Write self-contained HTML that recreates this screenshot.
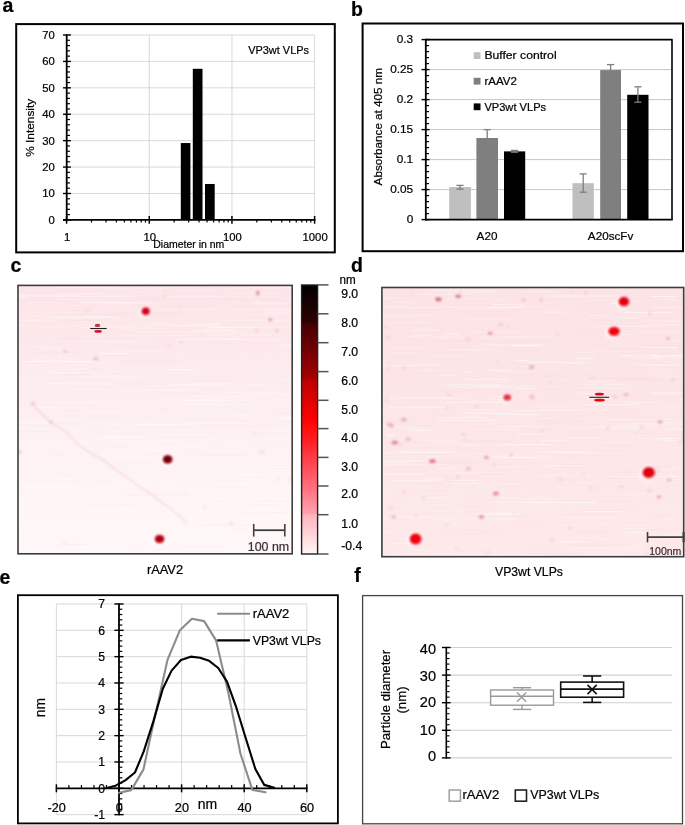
<!DOCTYPE html>
<html><head><meta charset="utf-8"><style>
html,body{margin:0;padding:0;background:#fff;}
svg{display:block;will-change:transform;}
text{font-family:"Liberation Sans",sans-serif;}
</style></head><body>
<svg width="685" height="825" viewBox="0 0 685 825">
<text x="2.50" y="12.20" font-size="19.5" text-anchor="start" fill="#000" font-weight="bold" stroke="#000" stroke-width="0.22" >a</text>
<text x="351.10" y="16.20" font-size="19.5" text-anchor="start" fill="#000" font-weight="bold" stroke="#000" stroke-width="0.22" >b</text>
<text x="10.50" y="272.00" font-size="19.5" text-anchor="start" fill="#000" font-weight="bold" stroke="#000" stroke-width="0.22" >c</text>
<text x="351.00" y="271.90" font-size="19.5" text-anchor="start" fill="#000" font-weight="bold" stroke="#000" stroke-width="0.22" >d</text>
<text x="-0.60" y="584.00" font-size="19.5" text-anchor="start" fill="#000" font-weight="bold" stroke="#000" stroke-width="0.22" >e</text>
<text x="354.30" y="582.20" font-size="19.5" text-anchor="start" fill="#000" font-weight="bold" stroke="#000" stroke-width="0.22" >f</text>
<rect x="16.20" y="24.10" width="318.60" height="228.30" fill="none" stroke="#000" stroke-width="2" />
<line x1="66.60" y1="193.49" x2="314.60" y2="193.49" stroke="#d9d9d9" stroke-width="1" />
<line x1="66.60" y1="167.07" x2="314.60" y2="167.07" stroke="#d9d9d9" stroke-width="1" />
<line x1="66.60" y1="140.66" x2="314.60" y2="140.66" stroke="#d9d9d9" stroke-width="1" />
<line x1="66.60" y1="114.24" x2="314.60" y2="114.24" stroke="#d9d9d9" stroke-width="1" />
<line x1="66.60" y1="87.83" x2="314.60" y2="87.83" stroke="#d9d9d9" stroke-width="1" />
<line x1="66.60" y1="61.42" x2="314.60" y2="61.42" stroke="#d9d9d9" stroke-width="1" />
<line x1="66.60" y1="35.00" x2="314.60" y2="35.00" stroke="#d9d9d9" stroke-width="1" />
<line x1="149.27" y1="35.00" x2="149.27" y2="219.90" stroke="#d9d9d9" stroke-width="1" />
<line x1="231.94" y1="35.00" x2="231.94" y2="219.90" stroke="#d9d9d9" stroke-width="1" />
<line x1="314.61" y1="35.00" x2="314.61" y2="219.90" stroke="#d9d9d9" stroke-width="1" />
<rect x="180.80" y="143.04" width="9.60" height="76.86" fill="#000" stroke="none" stroke-width="1" />
<rect x="192.80" y="68.81" width="9.70" height="151.09" fill="#000" stroke="none" stroke-width="1" />
<rect x="205.00" y="183.98" width="9.70" height="35.92" fill="#000" stroke="none" stroke-width="1" />
<line x1="66.70" y1="34.20" x2="66.70" y2="220.80" stroke="#000" stroke-width="1.8" />
<line x1="63.00" y1="219.90" x2="70.90" y2="219.90" stroke="#000" stroke-width="1.4" />
<line x1="66.70" y1="214.62" x2="70.00" y2="214.62" stroke="#000" stroke-width="1.2" />
<line x1="66.70" y1="209.33" x2="70.00" y2="209.33" stroke="#000" stroke-width="1.2" />
<line x1="66.70" y1="204.05" x2="70.00" y2="204.05" stroke="#000" stroke-width="1.2" />
<line x1="66.70" y1="198.77" x2="70.00" y2="198.77" stroke="#000" stroke-width="1.2" />
<line x1="63.00" y1="193.49" x2="70.90" y2="193.49" stroke="#000" stroke-width="1.4" />
<line x1="66.70" y1="188.20" x2="70.00" y2="188.20" stroke="#000" stroke-width="1.2" />
<line x1="66.70" y1="182.92" x2="70.00" y2="182.92" stroke="#000" stroke-width="1.2" />
<line x1="66.70" y1="177.64" x2="70.00" y2="177.64" stroke="#000" stroke-width="1.2" />
<line x1="66.70" y1="172.35" x2="70.00" y2="172.35" stroke="#000" stroke-width="1.2" />
<line x1="63.00" y1="167.07" x2="70.90" y2="167.07" stroke="#000" stroke-width="1.4" />
<line x1="66.70" y1="161.79" x2="70.00" y2="161.79" stroke="#000" stroke-width="1.2" />
<line x1="66.70" y1="156.51" x2="70.00" y2="156.51" stroke="#000" stroke-width="1.2" />
<line x1="66.70" y1="151.22" x2="70.00" y2="151.22" stroke="#000" stroke-width="1.2" />
<line x1="66.70" y1="145.94" x2="70.00" y2="145.94" stroke="#000" stroke-width="1.2" />
<line x1="63.00" y1="140.66" x2="70.90" y2="140.66" stroke="#000" stroke-width="1.4" />
<line x1="66.70" y1="135.38" x2="70.00" y2="135.38" stroke="#000" stroke-width="1.2" />
<line x1="66.70" y1="130.09" x2="70.00" y2="130.09" stroke="#000" stroke-width="1.2" />
<line x1="66.70" y1="124.81" x2="70.00" y2="124.81" stroke="#000" stroke-width="1.2" />
<line x1="66.70" y1="119.53" x2="70.00" y2="119.53" stroke="#000" stroke-width="1.2" />
<line x1="63.00" y1="114.24" x2="70.90" y2="114.24" stroke="#000" stroke-width="1.4" />
<line x1="66.70" y1="108.96" x2="70.00" y2="108.96" stroke="#000" stroke-width="1.2" />
<line x1="66.70" y1="103.68" x2="70.00" y2="103.68" stroke="#000" stroke-width="1.2" />
<line x1="66.70" y1="98.40" x2="70.00" y2="98.40" stroke="#000" stroke-width="1.2" />
<line x1="66.70" y1="93.11" x2="70.00" y2="93.11" stroke="#000" stroke-width="1.2" />
<line x1="63.00" y1="87.83" x2="70.90" y2="87.83" stroke="#000" stroke-width="1.4" />
<line x1="66.70" y1="82.55" x2="70.00" y2="82.55" stroke="#000" stroke-width="1.2" />
<line x1="66.70" y1="77.26" x2="70.00" y2="77.26" stroke="#000" stroke-width="1.2" />
<line x1="66.70" y1="71.98" x2="70.00" y2="71.98" stroke="#000" stroke-width="1.2" />
<line x1="66.70" y1="66.70" x2="70.00" y2="66.70" stroke="#000" stroke-width="1.2" />
<line x1="63.00" y1="61.42" x2="70.90" y2="61.42" stroke="#000" stroke-width="1.4" />
<line x1="66.70" y1="56.13" x2="70.00" y2="56.13" stroke="#000" stroke-width="1.2" />
<line x1="66.70" y1="50.85" x2="70.00" y2="50.85" stroke="#000" stroke-width="1.2" />
<line x1="66.70" y1="45.57" x2="70.00" y2="45.57" stroke="#000" stroke-width="1.2" />
<line x1="66.70" y1="40.28" x2="70.00" y2="40.28" stroke="#000" stroke-width="1.2" />
<line x1="63.00" y1="35.00" x2="70.90" y2="35.00" stroke="#000" stroke-width="1.4" />
<line x1="63.00" y1="219.90" x2="315.40" y2="219.90" stroke="#000" stroke-width="1.8" />
<line x1="66.60" y1="216.00" x2="66.60" y2="223.70" stroke="#000" stroke-width="1.5" />
<line x1="149.27" y1="216.00" x2="149.27" y2="223.70" stroke="#000" stroke-width="1.5" />
<line x1="231.94" y1="216.00" x2="231.94" y2="223.70" stroke="#000" stroke-width="1.5" />
<line x1="314.61" y1="216.00" x2="314.61" y2="223.70" stroke="#000" stroke-width="1.5" />
<line x1="91.49" y1="219.90" x2="91.49" y2="222.60" stroke="#000" stroke-width="1.2" />
<line x1="106.04" y1="219.90" x2="106.04" y2="222.60" stroke="#000" stroke-width="1.2" />
<line x1="116.37" y1="219.90" x2="116.37" y2="222.60" stroke="#000" stroke-width="1.2" />
<line x1="124.38" y1="219.90" x2="124.38" y2="222.60" stroke="#000" stroke-width="1.2" />
<line x1="130.93" y1="219.90" x2="130.93" y2="222.60" stroke="#000" stroke-width="1.2" />
<line x1="136.46" y1="219.90" x2="136.46" y2="222.60" stroke="#000" stroke-width="1.2" />
<line x1="141.26" y1="219.90" x2="141.26" y2="222.60" stroke="#000" stroke-width="1.2" />
<line x1="145.49" y1="219.90" x2="145.49" y2="222.60" stroke="#000" stroke-width="1.2" />
<line x1="174.16" y1="219.90" x2="174.16" y2="222.60" stroke="#000" stroke-width="1.2" />
<line x1="188.71" y1="219.90" x2="188.71" y2="222.60" stroke="#000" stroke-width="1.2" />
<line x1="199.04" y1="219.90" x2="199.04" y2="222.60" stroke="#000" stroke-width="1.2" />
<line x1="207.05" y1="219.90" x2="207.05" y2="222.60" stroke="#000" stroke-width="1.2" />
<line x1="213.60" y1="219.90" x2="213.60" y2="222.60" stroke="#000" stroke-width="1.2" />
<line x1="219.13" y1="219.90" x2="219.13" y2="222.60" stroke="#000" stroke-width="1.2" />
<line x1="223.93" y1="219.90" x2="223.93" y2="222.60" stroke="#000" stroke-width="1.2" />
<line x1="228.16" y1="219.90" x2="228.16" y2="222.60" stroke="#000" stroke-width="1.2" />
<line x1="256.83" y1="219.90" x2="256.83" y2="222.60" stroke="#000" stroke-width="1.2" />
<line x1="271.38" y1="219.90" x2="271.38" y2="222.60" stroke="#000" stroke-width="1.2" />
<line x1="281.71" y1="219.90" x2="281.71" y2="222.60" stroke="#000" stroke-width="1.2" />
<line x1="289.72" y1="219.90" x2="289.72" y2="222.60" stroke="#000" stroke-width="1.2" />
<line x1="296.27" y1="219.90" x2="296.27" y2="222.60" stroke="#000" stroke-width="1.2" />
<line x1="301.80" y1="219.90" x2="301.80" y2="222.60" stroke="#000" stroke-width="1.2" />
<line x1="306.60" y1="219.90" x2="306.60" y2="222.60" stroke="#000" stroke-width="1.2" />
<line x1="310.83" y1="219.90" x2="310.83" y2="222.60" stroke="#000" stroke-width="1.2" />
<text x="54.80" y="223.90" font-size="11.3" text-anchor="end" fill="#000" font-weight="normal" stroke="#000" stroke-width="0.22" >0</text>
<text x="54.80" y="197.49" font-size="11.3" text-anchor="end" fill="#000" font-weight="normal" stroke="#000" stroke-width="0.22" >10</text>
<text x="54.80" y="171.07" font-size="11.3" text-anchor="end" fill="#000" font-weight="normal" stroke="#000" stroke-width="0.22" >20</text>
<text x="54.80" y="144.66" font-size="11.3" text-anchor="end" fill="#000" font-weight="normal" stroke="#000" stroke-width="0.22" >30</text>
<text x="54.80" y="118.24" font-size="11.3" text-anchor="end" fill="#000" font-weight="normal" stroke="#000" stroke-width="0.22" >40</text>
<text x="54.80" y="91.83" font-size="11.3" text-anchor="end" fill="#000" font-weight="normal" stroke="#000" stroke-width="0.22" >50</text>
<text x="54.80" y="65.42" font-size="11.3" text-anchor="end" fill="#000" font-weight="normal" stroke="#000" stroke-width="0.22" >60</text>
<text x="54.80" y="39.00" font-size="11.3" text-anchor="end" fill="#000" font-weight="normal" stroke="#000" stroke-width="0.22" >70</text>
<text x="67.10" y="240.70" font-size="11.3" text-anchor="middle" fill="#000" font-weight="normal" stroke="#000" stroke-width="0.22" >1</text>
<text x="149.77" y="240.70" font-size="11.3" text-anchor="middle" fill="#000" font-weight="normal" stroke="#000" stroke-width="0.22" >10</text>
<text x="232.44" y="240.70" font-size="11.3" text-anchor="middle" fill="#000" font-weight="normal" stroke="#000" stroke-width="0.22" >100</text>
<text x="315.11" y="240.70" font-size="11.3" text-anchor="middle" fill="#000" font-weight="normal" stroke="#000" stroke-width="0.22" >1000</text>
<text x="153.30" y="247.50" font-size="10.4" text-anchor="start" fill="#000" font-weight="normal" stroke="#000" stroke-width="0.22" textLength="71" lengthAdjust="spacingAndGlyphs" >Diameter in nm</text>
<text x="248.20" y="54.20" font-size="11.8" text-anchor="start" fill="#000" font-weight="normal" stroke="#000" stroke-width="0.22" textLength="60.8" lengthAdjust="spacingAndGlyphs" >VP3wt VLPs</text>
<text x="0.00" y="0.00" font-size="11.3" text-anchor="middle" fill="#000" font-weight="normal" stroke="#000" stroke-width="0.22" textLength="58" lengthAdjust="spacingAndGlyphs" transform="translate(33.8,127.8) rotate(-90)">% Intensity</text>
<rect x="362.60" y="23.50" width="320.40" height="227.70" fill="none" stroke="#000" stroke-width="2" />
<line x1="425.80" y1="189.60" x2="672.00" y2="189.60" stroke="#c6c6c6" stroke-width="1" />
<line x1="425.80" y1="159.60" x2="672.00" y2="159.60" stroke="#c6c6c6" stroke-width="1" />
<line x1="425.80" y1="129.60" x2="672.00" y2="129.60" stroke="#c6c6c6" stroke-width="1" />
<line x1="425.80" y1="99.60" x2="672.00" y2="99.60" stroke="#c6c6c6" stroke-width="1" />
<line x1="425.80" y1="69.60" x2="672.00" y2="69.60" stroke="#c6c6c6" stroke-width="1" />
<line x1="425.80" y1="39.60" x2="672.60" y2="39.60" stroke="#000" stroke-width="1.6" />
<line x1="672.00" y1="39.60" x2="672.00" y2="219.60" stroke="#000" stroke-width="1.6" />
<rect x="449.20" y="187.02" width="21.70" height="32.58" fill="#bfbfbf" stroke="none" stroke-width="1" />
<rect x="476.40" y="138.00" width="21.60" height="81.60" fill="#7f7f7f" stroke="none" stroke-width="1" />
<rect x="504.00" y="151.38" width="21.20" height="68.22" fill="#000" stroke="none" stroke-width="1" />
<rect x="572.50" y="183.18" width="21.30" height="36.42" fill="#bfbfbf" stroke="none" stroke-width="1" />
<rect x="600.20" y="70.08" width="20.80" height="149.52" fill="#7f7f7f" stroke="none" stroke-width="1" />
<rect x="627.20" y="94.80" width="21.30" height="124.80" fill="#000" stroke="none" stroke-width="1" />
<line x1="460.00" y1="185.40" x2="460.00" y2="189.20" stroke="#7f7f7f" stroke-width="1.3" />
<line x1="456.40" y1="185.40" x2="463.60" y2="185.40" stroke="#7f7f7f" stroke-width="1.3" />
<line x1="456.40" y1="189.20" x2="463.60" y2="189.20" stroke="#7f7f7f" stroke-width="1.3" />
<line x1="487.20" y1="129.60" x2="487.20" y2="146.60" stroke="#7f7f7f" stroke-width="1.3" />
<line x1="483.60" y1="129.60" x2="490.80" y2="129.60" stroke="#7f7f7f" stroke-width="1.3" />
<line x1="483.60" y1="146.60" x2="490.80" y2="146.60" stroke="#7f7f7f" stroke-width="1.3" />
<line x1="514.60" y1="150.40" x2="514.60" y2="152.20" stroke="#7f7f7f" stroke-width="1.3" />
<line x1="511.00" y1="150.40" x2="518.20" y2="150.40" stroke="#7f7f7f" stroke-width="1.3" />
<line x1="511.00" y1="152.20" x2="518.20" y2="152.20" stroke="#7f7f7f" stroke-width="1.3" />
<line x1="583.20" y1="173.90" x2="583.20" y2="192.20" stroke="#7f7f7f" stroke-width="1.3" />
<line x1="579.60" y1="173.90" x2="586.80" y2="173.90" stroke="#7f7f7f" stroke-width="1.3" />
<line x1="579.60" y1="192.20" x2="586.80" y2="192.20" stroke="#7f7f7f" stroke-width="1.3" />
<line x1="610.60" y1="64.60" x2="610.60" y2="75.40" stroke="#7f7f7f" stroke-width="1.3" />
<line x1="607.00" y1="64.60" x2="614.20" y2="64.60" stroke="#7f7f7f" stroke-width="1.3" />
<line x1="607.00" y1="75.40" x2="614.20" y2="75.40" stroke="#7f7f7f" stroke-width="1.3" />
<line x1="637.90" y1="86.80" x2="637.90" y2="102.20" stroke="#7f7f7f" stroke-width="1.3" />
<line x1="634.30" y1="86.80" x2="641.50" y2="86.80" stroke="#7f7f7f" stroke-width="1.3" />
<line x1="634.30" y1="102.20" x2="641.50" y2="102.20" stroke="#7f7f7f" stroke-width="1.3" />
<line x1="425.80" y1="38.80" x2="425.80" y2="220.40" stroke="#000" stroke-width="1.8" />
<line x1="421.50" y1="219.60" x2="429.60" y2="219.60" stroke="#000" stroke-width="1.4" />
<line x1="425.80" y1="213.60" x2="429.00" y2="213.60" stroke="#000" stroke-width="1.2" />
<line x1="425.80" y1="207.60" x2="429.00" y2="207.60" stroke="#000" stroke-width="1.2" />
<line x1="425.80" y1="201.60" x2="429.00" y2="201.60" stroke="#000" stroke-width="1.2" />
<line x1="425.80" y1="195.60" x2="429.00" y2="195.60" stroke="#000" stroke-width="1.2" />
<line x1="421.50" y1="189.60" x2="429.60" y2="189.60" stroke="#000" stroke-width="1.4" />
<line x1="425.80" y1="183.60" x2="429.00" y2="183.60" stroke="#000" stroke-width="1.2" />
<line x1="425.80" y1="177.60" x2="429.00" y2="177.60" stroke="#000" stroke-width="1.2" />
<line x1="425.80" y1="171.60" x2="429.00" y2="171.60" stroke="#000" stroke-width="1.2" />
<line x1="425.80" y1="165.60" x2="429.00" y2="165.60" stroke="#000" stroke-width="1.2" />
<line x1="421.50" y1="159.60" x2="429.60" y2="159.60" stroke="#000" stroke-width="1.4" />
<line x1="425.80" y1="153.60" x2="429.00" y2="153.60" stroke="#000" stroke-width="1.2" />
<line x1="425.80" y1="147.60" x2="429.00" y2="147.60" stroke="#000" stroke-width="1.2" />
<line x1="425.80" y1="141.60" x2="429.00" y2="141.60" stroke="#000" stroke-width="1.2" />
<line x1="425.80" y1="135.60" x2="429.00" y2="135.60" stroke="#000" stroke-width="1.2" />
<line x1="421.50" y1="129.60" x2="429.60" y2="129.60" stroke="#000" stroke-width="1.4" />
<line x1="425.80" y1="123.60" x2="429.00" y2="123.60" stroke="#000" stroke-width="1.2" />
<line x1="425.80" y1="117.60" x2="429.00" y2="117.60" stroke="#000" stroke-width="1.2" />
<line x1="425.80" y1="111.60" x2="429.00" y2="111.60" stroke="#000" stroke-width="1.2" />
<line x1="425.80" y1="105.60" x2="429.00" y2="105.60" stroke="#000" stroke-width="1.2" />
<line x1="421.50" y1="99.60" x2="429.60" y2="99.60" stroke="#000" stroke-width="1.4" />
<line x1="425.80" y1="93.60" x2="429.00" y2="93.60" stroke="#000" stroke-width="1.2" />
<line x1="425.80" y1="87.60" x2="429.00" y2="87.60" stroke="#000" stroke-width="1.2" />
<line x1="425.80" y1="81.60" x2="429.00" y2="81.60" stroke="#000" stroke-width="1.2" />
<line x1="425.80" y1="75.60" x2="429.00" y2="75.60" stroke="#000" stroke-width="1.2" />
<line x1="421.50" y1="69.60" x2="429.60" y2="69.60" stroke="#000" stroke-width="1.4" />
<line x1="425.80" y1="63.60" x2="429.00" y2="63.60" stroke="#000" stroke-width="1.2" />
<line x1="425.80" y1="57.60" x2="429.00" y2="57.60" stroke="#000" stroke-width="1.2" />
<line x1="425.80" y1="51.60" x2="429.00" y2="51.60" stroke="#000" stroke-width="1.2" />
<line x1="425.80" y1="45.60" x2="429.00" y2="45.60" stroke="#000" stroke-width="1.2" />
<line x1="421.50" y1="39.60" x2="429.60" y2="39.60" stroke="#000" stroke-width="1.4" />
<line x1="425.00" y1="219.60" x2="672.80" y2="219.60" stroke="#000" stroke-width="1.8" />
<text x="413.20" y="223.45" font-size="11.8" text-anchor="end" fill="#000" font-weight="normal" stroke="#000" stroke-width="0.22" >0</text>
<text x="413.20" y="193.45" font-size="11.8" text-anchor="end" fill="#000" font-weight="normal" stroke="#000" stroke-width="0.22" >0.05</text>
<text x="413.20" y="163.45" font-size="11.8" text-anchor="end" fill="#000" font-weight="normal" stroke="#000" stroke-width="0.22" >0.1</text>
<text x="413.20" y="133.45" font-size="11.8" text-anchor="end" fill="#000" font-weight="normal" stroke="#000" stroke-width="0.22" >0.15</text>
<text x="413.20" y="103.45" font-size="11.8" text-anchor="end" fill="#000" font-weight="normal" stroke="#000" stroke-width="0.22" >0.2</text>
<text x="413.20" y="73.45" font-size="11.8" text-anchor="end" fill="#000" font-weight="normal" stroke="#000" stroke-width="0.22" >0.25</text>
<text x="413.20" y="43.45" font-size="11.8" text-anchor="end" fill="#000" font-weight="normal" stroke="#000" stroke-width="0.22" >0.3</text>
<text x="487.00" y="240.00" font-size="11.7" text-anchor="middle" fill="#000" font-weight="normal" stroke="#000" stroke-width="0.22" >A20</text>
<text x="610.60" y="240.00" font-size="11.7" text-anchor="middle" fill="#000" font-weight="normal" stroke="#000" stroke-width="0.22" >A20scFv</text>
<rect x="473.70" y="52.20" width="6.80" height="6.80" fill="#bfbfbf" stroke="none" stroke-width="1" />
<text x="484.40" y="59.40" font-size="11.3" text-anchor="start" fill="#000" font-weight="normal" stroke="#000" stroke-width="0.22" textLength="72.2" lengthAdjust="spacingAndGlyphs" >Buffer control</text>
<rect x="473.70" y="77.80" width="6.80" height="6.80" fill="#7f7f7f" stroke="none" stroke-width="1" />
<text x="484.40" y="85.00" font-size="11.3" text-anchor="start" fill="#000" font-weight="normal" stroke="#000" stroke-width="0.22" textLength="32.4" lengthAdjust="spacingAndGlyphs" >rAAV2</text>
<rect x="473.70" y="103.40" width="6.80" height="6.80" fill="#000" stroke="none" stroke-width="1" />
<text x="484.40" y="110.60" font-size="11.3" text-anchor="start" fill="#000" font-weight="normal" stroke="#000" stroke-width="0.22" textLength="61.7" lengthAdjust="spacingAndGlyphs" >VP3wt VLPs</text>
<text x="0.00" y="0.00" font-size="11.3" text-anchor="middle" fill="#000" font-weight="normal" stroke="#000" stroke-width="0.22" textLength="117.4" lengthAdjust="spacingAndGlyphs" transform="translate(382.0,126.7) rotate(-90)">Absorbance at 405 nm</text>
<defs>
<linearGradient id="bgc" x1="0" y1="0" x2="0" y2="1">
 <stop offset="0" stop-color="#fce5e8"/><stop offset="0.2" stop-color="#fce8ea"/>
 <stop offset="0.4" stop-color="#fdedef"/><stop offset="0.6" stop-color="#fef2f3"/><stop offset="0.8" stop-color="#fef5f6"/><stop offset="1" stop-color="#fef7f8"/>
</linearGradient>
<linearGradient id="bgd" x1="0" y1="0" x2="0" y2="1">
 <stop offset="0" stop-color="#fce4e6"/><stop offset="0.5" stop-color="#fce6e8"/>
 <stop offset="1" stop-color="#fde8ea"/>
</linearGradient>
<linearGradient id="cbar" x1="0" y1="0" x2="0" y2="1">
 <stop offset="0" stop-color="#000000"/>
 <stop offset="0.14" stop-color="#300000"/>
 <stop offset="0.143" stop-color="#420004"/>
 <stop offset="0.35" stop-color="#a80000"/>
 <stop offset="0.353" stop-color="#bc0000"/>
 <stop offset="0.50" stop-color="#ff0000"/>
 <stop offset="0.57" stop-color="#ff1c1c"/>
 <stop offset="0.64" stop-color="#ff3c46"/>
 <stop offset="0.76" stop-color="#ff7282"/>
 <stop offset="0.85" stop-color="#ffa2ae"/>
 <stop offset="0.855" stop-color="#ffb4bd"/>
 <stop offset="1" stop-color="#fff6f7"/>
</linearGradient>
<filter id="bl1" x="-50%" y="-50%" width="200%" height="200%"><feGaussianBlur stdDeviation="0.6"/></filter>
<filter id="bl2" x="-50%" y="-50%" width="200%" height="200%"><feGaussianBlur stdDeviation="1.2"/></filter>
<filter id="bl3" x="-50%" y="-50%" width="200%" height="200%"><feGaussianBlur stdDeviation="0.9"/></filter>
<clipPath id="clc"><rect x="18" y="285.4" width="274.2" height="268.4"/></clipPath>
<clipPath id="cld"><rect x="381.9" y="287.5" width="301.8" height="269.2"/></clipPath>
</defs>
<g clip-path="url(#clc)">
<rect x="18.00" y="285.40" width="274.20" height="268.40" fill="url(#bgc)" stroke="none" stroke-width="1" />
<rect x="42.4" y="372.3" width="47.7" height="0.7" fill="#ffffff" opacity="0.44"/>
<rect x="147.3" y="301.0" width="8.4" height="0.5" fill="#ffffff" opacity="0.27"/>
<rect x="241.3" y="399.3" width="13.9" height="1.0" fill="#ffffff" opacity="0.47"/>
<rect x="114.7" y="440.3" width="68.5" height="0.6" fill="#ffffff" opacity="0.55"/>
<rect x="32.7" y="324.1" width="25.7" height="0.8" fill="#f3c6cc" opacity="0.08"/>
<rect x="107.6" y="456.9" width="41.1" height="0.6" fill="#ffffff" opacity="0.27"/>
<rect x="123.8" y="468.0" width="26.1" height="0.6" fill="#ffffff" opacity="0.41"/>
<rect x="203.6" y="498.6" width="21.6" height="0.9" fill="#ffffff" opacity="0.43"/>
<rect x="82.7" y="481.2" width="68.7" height="0.9" fill="#ffffff" opacity="0.40"/>
<rect x="141.9" y="326.2" width="8.5" height="0.8" fill="#ffffff" opacity="0.52"/>
<rect x="90.3" y="520.4" width="50.5" height="0.7" fill="#ffffff" opacity="0.45"/>
<rect x="275.9" y="510.8" width="36.3" height="0.9" fill="#ffffff" opacity="0.27"/>
<rect x="290.2" y="459.1" width="58.6" height="0.8" fill="#ffffff" opacity="0.39"/>
<rect x="133.8" y="291.5" width="16.8" height="0.9" fill="#ffffff" opacity="0.27"/>
<rect x="70.8" y="320.1" width="31.0" height="0.7" fill="#f3c6cc" opacity="0.07"/>
<rect x="257.9" y="432.9" width="58.4" height="0.7" fill="#f3c6cc" opacity="0.09"/>
<rect x="258.1" y="381.7" width="67.3" height="0.6" fill="#ffffff" opacity="0.31"/>
<rect x="140.7" y="348.0" width="43.7" height="0.7" fill="#ffffff" opacity="0.25"/>
<rect x="164.6" y="384.5" width="67.0" height="0.8" fill="#ffffff" opacity="0.43"/>
<rect x="13.9" y="466.9" width="63.6" height="0.9" fill="#f3c6cc" opacity="0.15"/>
<rect x="115.4" y="390.7" width="12.6" height="0.5" fill="#ffffff" opacity="0.27"/>
<rect x="45.7" y="341.4" width="27.8" height="0.6" fill="#ffffff" opacity="0.25"/>
<rect x="105.0" y="312.6" width="7.6" height="0.6" fill="#f3c6cc" opacity="0.12"/>
<rect x="100.2" y="353.1" width="29.3" height="1.0" fill="#ffffff" opacity="0.55"/>
<rect x="140.3" y="410.5" width="11.5" height="0.6" fill="#ffffff" opacity="0.37"/>
<rect x="45.5" y="507.9" width="7.5" height="0.6" fill="#f3c6cc" opacity="0.11"/>
<rect x="6.0" y="431.2" width="39.8" height="0.8" fill="#f3c6cc" opacity="0.15"/>
<rect x="105.9" y="355.5" width="16.7" height="0.9" fill="#f3c6cc" opacity="0.11"/>
<rect x="63.6" y="373.9" width="57.9" height="0.9" fill="#f3c6cc" opacity="0.15"/>
<rect x="215.7" y="505.0" width="20.5" height="0.5" fill="#ffffff" opacity="0.37"/>
<rect x="80.2" y="292.9" width="22.6" height="0.7" fill="#ffffff" opacity="0.58"/>
<rect x="288.7" y="536.9" width="67.1" height="0.6" fill="#ffffff" opacity="0.33"/>
<rect x="58.1" y="338.2" width="45.9" height="0.7" fill="#f3c6cc" opacity="0.14"/>
<rect x="233.3" y="460.7" width="11.4" height="0.9" fill="#ffffff" opacity="0.57"/>
<rect x="138.6" y="486.7" width="17.4" height="0.9" fill="#f3c6cc" opacity="0.09"/>
<rect x="114.5" y="546.2" width="31.7" height="0.6" fill="#f3c6cc" opacity="0.13"/>
<rect x="42.5" y="319.5" width="63.9" height="0.9" fill="#f3c6cc" opacity="0.07"/>
<rect x="191.4" y="548.5" width="28.4" height="0.5" fill="#ffffff" opacity="0.30"/>
<rect x="189.1" y="546.0" width="39.7" height="0.9" fill="#f3c6cc" opacity="0.10"/>
<rect x="60.1" y="507.1" width="22.1" height="0.8" fill="#ffffff" opacity="0.33"/>
<rect x="121.3" y="355.0" width="14.4" height="0.7" fill="#f3c6cc" opacity="0.10"/>
<rect x="264.0" y="442.0" width="32.9" height="0.8" fill="#f3c6cc" opacity="0.11"/>
<rect x="3.5" y="425.9" width="34.2" height="0.9" fill="#ffffff" opacity="0.25"/>
<rect x="137.3" y="331.7" width="52.4" height="0.8" fill="#ffffff" opacity="0.36"/>
<rect x="228.7" y="434.5" width="12.8" height="0.6" fill="#ffffff" opacity="0.34"/>
<rect x="147.4" y="492.7" width="42.0" height="0.7" fill="#f3c6cc" opacity="0.15"/>
<rect x="146.7" y="449.8" width="38.8" height="0.8" fill="#ffffff" opacity="0.41"/>
<rect x="275.0" y="413.7" width="50.7" height="0.6" fill="#f3c6cc" opacity="0.15"/>
<rect x="275.5" y="435.6" width="59.8" height="0.7" fill="#ffffff" opacity="0.29"/>
<rect x="68.8" y="304.9" width="10.7" height="0.9" fill="#ffffff" opacity="0.52"/>
<rect x="208.7" y="326.9" width="48.3" height="1.0" fill="#ffffff" opacity="0.56"/>
<rect x="278.2" y="344.3" width="31.5" height="0.9" fill="#ffffff" opacity="0.60"/>
<rect x="125.0" y="328.7" width="39.0" height="0.7" fill="#ffffff" opacity="0.32"/>
<rect x="3.7" y="479.2" width="41.5" height="0.7" fill="#ffffff" opacity="0.26"/>
<rect x="148.7" y="452.9" width="10.1" height="1.0" fill="#f3c6cc" opacity="0.14"/>
<rect x="76.1" y="313.5" width="8.5" height="0.6" fill="#f3c6cc" opacity="0.09"/>
<rect x="266.1" y="398.7" width="58.4" height="1.0" fill="#ffffff" opacity="0.30"/>
<rect x="204.1" y="438.5" width="11.7" height="0.7" fill="#ffffff" opacity="0.49"/>
<rect x="274.1" y="304.8" width="46.6" height="0.9" fill="#f3c6cc" opacity="0.07"/>
<rect x="251.8" y="303.3" width="35.0" height="1.0" fill="#ffffff" opacity="0.44"/>
<rect x="36.0" y="357.3" width="39.7" height="0.6" fill="#ffffff" opacity="0.29"/>
<rect x="57.4" y="298.9" width="26.0" height="0.6" fill="#ffffff" opacity="0.52"/>
<rect x="50.3" y="419.6" width="28.2" height="0.5" fill="#ffffff" opacity="0.34"/>
<rect x="160.1" y="482.2" width="18.1" height="0.6" fill="#ffffff" opacity="0.58"/>
<rect x="125.1" y="505.2" width="37.7" height="0.8" fill="#f3c6cc" opacity="0.10"/>
<rect x="287.0" y="470.0" width="27.9" height="0.8" fill="#f3c6cc" opacity="0.13"/>
<rect x="100.2" y="394.0" width="9.5" height="0.9" fill="#ffffff" opacity="0.27"/>
<rect x="46.0" y="354.0" width="11.4" height="0.8" fill="#f3c6cc" opacity="0.15"/>
<rect x="69.3" y="361.1" width="24.8" height="0.7" fill="#ffffff" opacity="0.31"/>
<rect x="281.0" y="356.1" width="68.2" height="1.0" fill="#ffffff" opacity="0.34"/>
<rect x="102.9" y="368.5" width="6.1" height="0.8" fill="#ffffff" opacity="0.42"/>
<rect x="146.5" y="339.3" width="6.3" height="0.7" fill="#ffffff" opacity="0.28"/>
<rect x="4.6" y="296.6" width="25.5" height="0.8" fill="#ffffff" opacity="0.45"/>
<rect x="191.4" y="486.8" width="51.8" height="0.7" fill="#f3c6cc" opacity="0.10"/>
<rect x="42.0" y="549.7" width="52.3" height="0.9" fill="#ffffff" opacity="0.27"/>
<rect x="182.6" y="524.8" width="53.0" height="0.8" fill="#f3c6cc" opacity="0.07"/>
<rect x="243.6" y="420.8" width="57.5" height="0.9" fill="#f3c6cc" opacity="0.12"/>
<rect x="202.0" y="468.7" width="20.7" height="0.7" fill="#ffffff" opacity="0.30"/>
<rect x="243.9" y="313.6" width="41.7" height="0.8" fill="#ffffff" opacity="0.47"/>
<rect x="-1.0" y="416.7" width="57.1" height="0.8" fill="#f3c6cc" opacity="0.11"/>
<rect x="17.4" y="462.4" width="53.2" height="0.6" fill="#ffffff" opacity="0.28"/>
<rect x="58.4" y="481.2" width="53.3" height="0.7" fill="#f3c6cc" opacity="0.11"/>
<rect x="199.1" y="414.0" width="55.1" height="0.5" fill="#ffffff" opacity="0.47"/>
<rect x="72.7" y="325.0" width="53.6" height="0.5" fill="#ffffff" opacity="0.45"/>
<rect x="77.1" y="301.7" width="49.0" height="0.6" fill="#ffffff" opacity="0.49"/>
<rect x="134.7" y="424.0" width="35.8" height="0.6" fill="#ffffff" opacity="0.56"/>
<rect x="273.4" y="547.9" width="7.1" height="1.0" fill="#ffffff" opacity="0.54"/>
<rect x="77.0" y="406.0" width="19.4" height="0.8" fill="#f3c6cc" opacity="0.08"/>
<rect x="152.2" y="323.4" width="67.0" height="0.8" fill="#ffffff" opacity="0.54"/>
<rect x="204.9" y="523.4" width="20.8" height="0.5" fill="#f3c6cc" opacity="0.11"/>
<rect x="142.7" y="286.4" width="34.8" height="0.7" fill="#ffffff" opacity="0.30"/>
<rect x="245.2" y="370.2" width="6.1" height="0.6" fill="#f3c6cc" opacity="0.14"/>
<rect x="207.8" y="534.0" width="63.7" height="0.7" fill="#ffffff" opacity="0.38"/>
<rect x="171.3" y="553.5" width="29.1" height="0.5" fill="#ffffff" opacity="0.35"/>
<rect x="243.6" y="312.7" width="24.3" height="0.6" fill="#f3c6cc" opacity="0.08"/>
<rect x="53.9" y="422.5" width="29.9" height="0.9" fill="#f3c6cc" opacity="0.15"/>
<rect x="266.7" y="454.7" width="66.2" height="0.5" fill="#ffffff" opacity="0.50"/>
<rect x="130.6" y="482.0" width="54.2" height="0.5" fill="#ffffff" opacity="0.35"/>
<rect x="35.5" y="534.1" width="36.2" height="0.9" fill="#ffffff" opacity="0.35"/>
<rect x="74.5" y="547.4" width="48.0" height="0.7" fill="#ffffff" opacity="0.45"/>
<rect x="45.6" y="330.3" width="19.3" height="0.6" fill="#f3c6cc" opacity="0.11"/>
<rect x="291.2" y="528.6" width="34.8" height="0.5" fill="#ffffff" opacity="0.32"/>
<rect x="24.8" y="377.2" width="21.3" height="0.9" fill="#ffffff" opacity="0.45"/>
<rect x="119.4" y="486.6" width="32.5" height="0.7" fill="#ffffff" opacity="0.38"/>
<rect x="79.6" y="302.1" width="67.9" height="0.8" fill="#ffffff" opacity="0.43"/>
<rect x="61.5" y="517.0" width="23.3" height="0.7" fill="#ffffff" opacity="0.39"/>
<rect x="247.7" y="541.4" width="61.9" height="0.9" fill="#ffffff" opacity="0.26"/>
<rect x="137.2" y="525.8" width="43.6" height="1.0" fill="#ffffff" opacity="0.39"/>
<rect x="249.7" y="507.0" width="68.2" height="0.6" fill="#ffffff" opacity="0.29"/>
<rect x="198.7" y="425.6" width="66.3" height="0.9" fill="#f3c6cc" opacity="0.12"/>
<rect x="160.3" y="408.1" width="8.5" height="1.0" fill="#f3c6cc" opacity="0.08"/>
<rect x="87.4" y="458.7" width="14.2" height="0.8" fill="#ffffff" opacity="0.47"/>
<rect x="18.7" y="315.5" width="39.6" height="0.6" fill="#ffffff" opacity="0.39"/>
<rect x="1.1" y="446.7" width="25.3" height="0.8" fill="#ffffff" opacity="0.59"/>
<rect x="137.8" y="522.6" width="21.0" height="0.9" fill="#ffffff" opacity="0.59"/>
<rect x="4.4" y="367.9" width="37.9" height="0.6" fill="#ffffff" opacity="0.40"/>
<rect x="270.2" y="464.5" width="20.5" height="0.7" fill="#ffffff" opacity="0.37"/>
<rect x="56.3" y="468.6" width="57.0" height="0.6" fill="#f3c6cc" opacity="0.11"/>
<rect x="89.7" y="545.7" width="58.5" height="0.9" fill="#ffffff" opacity="0.33"/>
<rect x="278.1" y="364.6" width="37.7" height="0.7" fill="#ffffff" opacity="0.33"/>
<rect x="277.1" y="464.0" width="15.4" height="1.0" fill="#ffffff" opacity="0.32"/>
<rect x="13.3" y="323.5" width="9.8" height="0.9" fill="#ffffff" opacity="0.56"/>
<rect x="291.5" y="482.1" width="65.6" height="1.0" fill="#ffffff" opacity="0.31"/>
<rect x="7.4" y="485.7" width="48.5" height="0.7" fill="#ffffff" opacity="0.38"/>
<rect x="-1.2" y="330.8" width="23.9" height="0.6" fill="#ffffff" opacity="0.58"/>
<rect x="59.0" y="544.2" width="28.8" height="0.7" fill="#f3c6cc" opacity="0.14"/>
<rect x="137.3" y="298.6" width="29.9" height="0.7" fill="#f3c6cc" opacity="0.08"/>
<rect x="6.9" y="526.2" width="32.3" height="0.5" fill="#f3c6cc" opacity="0.14"/>
<rect x="16.4" y="294.8" width="64.9" height="0.9" fill="#ffffff" opacity="0.51"/>
<rect x="78.1" y="376.4" width="67.3" height="0.9" fill="#ffffff" opacity="0.34"/>
<rect x="79.1" y="370.3" width="6.2" height="0.8" fill="#f3c6cc" opacity="0.15"/>
<rect x="5.1" y="538.6" width="21.0" height="1.0" fill="#ffffff" opacity="0.58"/>
<rect x="71.9" y="389.1" width="33.5" height="0.6" fill="#ffffff" opacity="0.57"/>
<rect x="215.3" y="500.8" width="58.7" height="0.7" fill="#f3c6cc" opacity="0.12"/>
<rect x="104.5" y="371.2" width="56.1" height="0.9" fill="#ffffff" opacity="0.32"/>
<rect x="17.0" y="351.8" width="8.2" height="1.0" fill="#ffffff" opacity="0.36"/>
<rect x="288.6" y="522.5" width="23.0" height="0.7" fill="#ffffff" opacity="0.28"/>
<rect x="129.5" y="475.9" width="21.0" height="0.8" fill="#ffffff" opacity="0.47"/>
<rect x="247.2" y="486.2" width="48.5" height="0.6" fill="#ffffff" opacity="0.54"/>
<rect x="107.7" y="437.6" width="53.2" height="0.6" fill="#ffffff" opacity="0.34"/>
<rect x="258.1" y="326.6" width="43.0" height="1.0" fill="#ffffff" opacity="0.39"/>
<rect x="66.1" y="421.6" width="57.7" height="0.6" fill="#ffffff" opacity="0.60"/>
<rect x="239.0" y="412.8" width="59.8" height="0.6" fill="#f3c6cc" opacity="0.06"/>
<rect x="53.8" y="317.4" width="68.3" height="0.7" fill="#ffffff" opacity="0.58"/>
<rect x="130.1" y="517.9" width="22.6" height="0.6" fill="#f3c6cc" opacity="0.15"/>
<rect x="180.4" y="445.4" width="19.9" height="0.6" fill="#ffffff" opacity="0.30"/>
<rect x="174.4" y="353.8" width="47.7" height="0.7" fill="#ffffff" opacity="0.25"/>
<rect x="52.5" y="467.5" width="26.0" height="0.8" fill="#ffffff" opacity="0.53"/>
<rect x="27.8" y="302.4" width="31.3" height="0.5" fill="#ffffff" opacity="0.47"/>
<rect x="202.6" y="329.3" width="32.2" height="1.0" fill="#ffffff" opacity="0.36"/>
<rect x="164.7" y="369.2" width="28.9" height="1.0" fill="#ffffff" opacity="0.55"/>
<rect x="56.0" y="383.0" width="52.6" height="1.0" fill="#ffffff" opacity="0.25"/>
<rect x="239.4" y="399.1" width="32.0" height="0.6" fill="#f3c6cc" opacity="0.11"/>
<rect x="160.3" y="289.4" width="47.0" height="0.8" fill="#f3c6cc" opacity="0.07"/>
<rect x="146.4" y="384.9" width="15.3" height="1.0" fill="#ffffff" opacity="0.43"/>
<rect x="142.3" y="314.6" width="57.5" height="0.6" fill="#f3c6cc" opacity="0.08"/>
<rect x="285.0" y="538.5" width="36.9" height="0.7" fill="#ffffff" opacity="0.57"/>
<rect x="180.5" y="528.1" width="58.8" height="0.6" fill="#ffffff" opacity="0.53"/>
<rect x="247.0" y="394.0" width="59.1" height="0.7" fill="#ffffff" opacity="0.33"/>
<rect x="110.8" y="424.4" width="13.9" height="0.9" fill="#ffffff" opacity="0.50"/>
<rect x="163.4" y="296.4" width="54.5" height="0.6" fill="#ffffff" opacity="0.54"/>
<rect x="159.8" y="446.3" width="46.1" height="0.8" fill="#ffffff" opacity="0.40"/>
<rect x="191.8" y="399.7" width="34.6" height="0.8" fill="#ffffff" opacity="0.26"/>
<rect x="67.2" y="416.8" width="54.9" height="0.6" fill="#f3c6cc" opacity="0.11"/>
<rect x="29.5" y="412.4" width="14.2" height="0.7" fill="#ffffff" opacity="0.28"/>
<rect x="10.0" y="422.3" width="46.7" height="0.9" fill="#ffffff" opacity="0.51"/>
<rect x="14.0" y="422.7" width="38.3" height="0.6" fill="#ffffff" opacity="0.58"/>
<rect x="291.1" y="515.4" width="52.9" height="1.0" fill="#f3c6cc" opacity="0.08"/>
<rect x="279.4" y="417.4" width="64.6" height="1.0" fill="#ffffff" opacity="0.53"/>
<rect x="101.2" y="303.0" width="54.4" height="0.6" fill="#ffffff" opacity="0.56"/>
<rect x="40.2" y="504.3" width="38.1" height="0.6" fill="#f3c6cc" opacity="0.08"/>
<rect x="91.9" y="421.2" width="8.4" height="1.0" fill="#ffffff" opacity="0.31"/>
<rect x="261.4" y="467.8" width="16.8" height="0.8" fill="#f3c6cc" opacity="0.07"/>
<rect x="103.8" y="456.2" width="61.9" height="0.9" fill="#ffffff" opacity="0.45"/>
<rect x="290.1" y="313.5" width="46.3" height="0.6" fill="#ffffff" opacity="0.53"/>
<rect x="167.9" y="551.2" width="29.1" height="0.6" fill="#f3c6cc" opacity="0.10"/>
<rect x="12.2" y="485.0" width="58.5" height="1.0" fill="#ffffff" opacity="0.47"/>
<rect x="193.3" y="442.6" width="26.0" height="0.6" fill="#ffffff" opacity="0.26"/>
<rect x="125.2" y="450.7" width="38.8" height="0.6" fill="#f3c6cc" opacity="0.07"/>
<rect x="4.6" y="460.7" width="6.2" height="0.7" fill="#ffffff" opacity="0.29"/>
<rect x="169.7" y="345.6" width="43.7" height="0.7" fill="#ffffff" opacity="0.47"/>
<rect x="273.5" y="321.6" width="21.6" height="0.8" fill="#ffffff" opacity="0.28"/>
<rect x="228.1" y="519.3" width="31.7" height="0.8" fill="#ffffff" opacity="0.25"/>
<rect x="101.1" y="436.3" width="47.3" height="0.9" fill="#ffffff" opacity="0.58"/>
<rect x="263.8" y="352.1" width="8.8" height="0.6" fill="#ffffff" opacity="0.39"/>
<rect x="227.1" y="301.1" width="6.8" height="0.6" fill="#ffffff" opacity="0.58"/>
<rect x="176.9" y="339.0" width="38.4" height="0.6" fill="#ffffff" opacity="0.53"/>
<rect x="86.3" y="368.4" width="9.1" height="0.9" fill="#f3c6cc" opacity="0.14"/>
<rect x="246.4" y="287.1" width="53.7" height="0.7" fill="#ffffff" opacity="0.51"/>
<rect x="29.0" y="346.0" width="20.9" height="0.9" fill="#ffffff" opacity="0.37"/>
<rect x="246.7" y="472.0" width="51.5" height="0.7" fill="#ffffff" opacity="0.44"/>
<rect x="151.9" y="497.0" width="23.0" height="0.6" fill="#ffffff" opacity="0.59"/>
<rect x="2.5" y="521.6" width="22.7" height="1.0" fill="#ffffff" opacity="0.51"/>
<rect x="94.2" y="485.7" width="62.3" height="1.0" fill="#ffffff" opacity="0.33"/>
<rect x="201.8" y="454.7" width="48.6" height="0.9" fill="#f3c6cc" opacity="0.11"/>
<rect x="250.3" y="472.6" width="34.0" height="0.7" fill="#f3c6cc" opacity="0.12"/>
<rect x="181.2" y="342.3" width="11.0" height="0.5" fill="#f3c6cc" opacity="0.07"/>
<rect x="271.3" y="314.0" width="28.1" height="0.5" fill="#ffffff" opacity="0.26"/>
<rect x="184.5" y="471.3" width="50.6" height="0.8" fill="#f3c6cc" opacity="0.07"/>
<rect x="238.5" y="382.9" width="58.5" height="0.9" fill="#f3c6cc" opacity="0.07"/>
<rect x="275.8" y="530.8" width="12.9" height="0.5" fill="#ffffff" opacity="0.29"/>
<rect x="236.9" y="512.9" width="46.6" height="0.6" fill="#f3c6cc" opacity="0.12"/>
<rect x="26.8" y="312.2" width="54.5" height="0.7" fill="#ffffff" opacity="0.36"/>
<rect x="73.5" y="291.0" width="24.1" height="0.7" fill="#f3c6cc" opacity="0.10"/>
<rect x="146.2" y="544.1" width="60.5" height="0.7" fill="#ffffff" opacity="0.26"/>
<rect x="225.4" y="402.5" width="28.2" height="0.6" fill="#f3c6cc" opacity="0.11"/>
<rect x="24.7" y="516.8" width="58.5" height="0.6" fill="#ffffff" opacity="0.25"/>
<rect x="285.7" y="490.0" width="6.3" height="0.9" fill="#ffffff" opacity="0.42"/>
<rect x="143.5" y="334.9" width="28.2" height="1.0" fill="#f3c6cc" opacity="0.09"/>
<rect x="61.2" y="361.6" width="50.8" height="0.8" fill="#ffffff" opacity="0.29"/>
<rect x="229.8" y="307.1" width="50.6" height="0.7" fill="#f3c6cc" opacity="0.12"/>
<rect x="114.1" y="393.1" width="63.0" height="0.5" fill="#ffffff" opacity="0.56"/>
<rect x="75.4" y="340.7" width="63.7" height="0.9" fill="#ffffff" opacity="0.38"/>
<rect x="133.6" y="348.1" width="40.0" height="0.8" fill="#f3c6cc" opacity="0.14"/>
<rect x="94.1" y="378.9" width="15.9" height="0.9" fill="#f3c6cc" opacity="0.13"/>
<rect x="127.1" y="330.9" width="55.5" height="0.7" fill="#ffffff" opacity="0.29"/>
<rect x="68.0" y="523.0" width="18.3" height="0.9" fill="#ffffff" opacity="0.50"/>
<rect x="43.9" y="326.9" width="21.8" height="0.6" fill="#ffffff" opacity="0.43"/>
<rect x="53.7" y="373.5" width="68.4" height="1.0" fill="#f3c6cc" opacity="0.07"/>
<rect x="111.0" y="312.7" width="69.0" height="0.7" fill="#f3c6cc" opacity="0.13"/>
<rect x="185.7" y="338.1" width="12.8" height="0.5" fill="#ffffff" opacity="0.39"/>
<rect x="230.7" y="392.5" width="50.4" height="0.7" fill="#ffffff" opacity="0.47"/>
<rect x="175.6" y="323.5" width="31.9" height="0.7" fill="#f3c6cc" opacity="0.15"/>
<rect x="218.4" y="439.5" width="33.0" height="0.9" fill="#ffffff" opacity="0.50"/>
<rect x="204.0" y="493.2" width="60.6" height="0.7" fill="#ffffff" opacity="0.47"/>
<rect x="182.8" y="369.4" width="12.3" height="0.9" fill="#ffffff" opacity="0.52"/>
<rect x="71.6" y="454.4" width="33.1" height="0.7" fill="#ffffff" opacity="0.47"/>
<rect x="271.7" y="466.6" width="17.7" height="0.7" fill="#ffffff" opacity="0.52"/>
<rect x="284.7" y="416.9" width="8.4" height="0.9" fill="#ffffff" opacity="0.31"/>
<rect x="150.8" y="537.9" width="12.5" height="0.9" fill="#ffffff" opacity="0.44"/>
<rect x="186.1" y="422.9" width="59.1" height="1.0" fill="#ffffff" opacity="0.39"/>
<rect x="199.3" y="341.8" width="31.1" height="1.0" fill="#f3c6cc" opacity="0.07"/>
<rect x="14.7" y="380.8" width="23.6" height="0.7" fill="#ffffff" opacity="0.25"/>
<rect x="203.4" y="398.3" width="28.5" height="0.9" fill="#ffffff" opacity="0.33"/>
<rect x="153.1" y="537.7" width="20.0" height="0.6" fill="#f3c6cc" opacity="0.10"/>
<rect x="226.5" y="320.1" width="57.8" height="0.8" fill="#ffffff" opacity="0.41"/>
<rect x="281.6" y="346.1" width="28.6" height="0.9" fill="#ffffff" opacity="0.54"/>
<rect x="84.6" y="411.0" width="41.1" height="0.7" fill="#ffffff" opacity="0.54"/>
<rect x="76.7" y="513.7" width="30.1" height="0.6" fill="#ffffff" opacity="0.40"/>
<rect x="210.4" y="286.1" width="24.0" height="0.7" fill="#ffffff" opacity="0.36"/>
<rect x="185.5" y="400.4" width="48.2" height="0.9" fill="#ffffff" opacity="0.58"/>
<rect x="241.6" y="300.7" width="64.0" height="0.9" fill="#f3c6cc" opacity="0.07"/>
<rect x="2.4" y="455.3" width="6.7" height="0.6" fill="#f3c6cc" opacity="0.13"/>
<rect x="40.0" y="312.6" width="21.0" height="0.6" fill="#f3c6cc" opacity="0.09"/>
<rect x="230.9" y="528.1" width="16.7" height="0.9" fill="#f3c6cc" opacity="0.12"/>
<rect x="261.0" y="464.8" width="56.4" height="0.8" fill="#f3c6cc" opacity="0.08"/>
<rect x="216.3" y="427.9" width="34.1" height="0.6" fill="#f3c6cc" opacity="0.12"/>
<rect x="39.0" y="348.3" width="37.6" height="0.6" fill="#ffffff" opacity="0.41"/>
<rect x="144.6" y="417.3" width="40.5" height="0.9" fill="#f3c6cc" opacity="0.06"/>
<rect x="163.5" y="411.0" width="48.6" height="0.7" fill="#f3c6cc" opacity="0.10"/>
<rect x="20.2" y="543.2" width="46.8" height="0.8" fill="#ffffff" opacity="0.26"/>
<rect x="272.0" y="468.6" width="27.1" height="0.7" fill="#f3c6cc" opacity="0.11"/>
<rect x="8.0" y="526.3" width="52.0" height="0.9" fill="#ffffff" opacity="0.37"/>
<rect x="137.6" y="383.7" width="39.6" height="0.7" fill="#f3c6cc" opacity="0.08"/>
<rect x="161.0" y="398.8" width="58.9" height="0.7" fill="#ffffff" opacity="0.54"/>
<rect x="77.9" y="420.6" width="38.4" height="0.9" fill="#f3c6cc" opacity="0.13"/>
<rect x="91.3" y="374.2" width="25.2" height="0.9" fill="#ffffff" opacity="0.47"/>
<rect x="210.6" y="296.1" width="62.7" height="0.7" fill="#ffffff" opacity="0.27"/>
<rect x="53.9" y="287.1" width="65.0" height="0.9" fill="#ffffff" opacity="0.48"/>
<rect x="178.0" y="529.6" width="45.5" height="0.8" fill="#ffffff" opacity="0.49"/>
<rect x="60.5" y="468.2" width="48.7" height="0.6" fill="#ffffff" opacity="0.52"/>
<rect x="8.9" y="334.1" width="55.6" height="0.7" fill="#f3c6cc" opacity="0.13"/>
<rect x="229.4" y="506.2" width="42.0" height="0.7" fill="#ffffff" opacity="0.36"/>
<rect x="124.7" y="370.9" width="47.1" height="0.8" fill="#f3c6cc" opacity="0.07"/>
<rect x="33.0" y="296.0" width="57.9" height="0.7" fill="#ffffff" opacity="0.57"/>
<rect x="111.9" y="289.2" width="43.9" height="0.7" fill="#f3c6cc" opacity="0.16"/>
<rect x="28.0" y="396.1" width="47.2" height="0.5" fill="#ffffff" opacity="0.30"/>
<rect x="199.2" y="286.7" width="13.8" height="0.9" fill="#f3c6cc" opacity="0.07"/>
<rect x="3.2" y="320.0" width="52.0" height="0.6" fill="#ffffff" opacity="0.51"/>
<rect x="225.7" y="298.9" width="51.7" height="0.5" fill="#f3c6cc" opacity="0.13"/>
<rect x="206.7" y="454.1" width="35.5" height="1.0" fill="#f3c6cc" opacity="0.09"/>
<rect x="1.4" y="477.9" width="6.9" height="0.5" fill="#ffffff" opacity="0.54"/>
<rect x="212.6" y="368.9" width="16.6" height="0.5" fill="#f3c6cc" opacity="0.11"/>
<rect x="167.2" y="384.1" width="34.1" height="0.9" fill="#ffffff" opacity="0.30"/>
<rect x="187.7" y="382.9" width="46.3" height="0.9" fill="#ffffff" opacity="0.39"/>
<rect x="228.8" y="539.0" width="42.3" height="1.0" fill="#ffffff" opacity="0.27"/>
<rect x="241.4" y="474.2" width="27.3" height="0.9" fill="#ffffff" opacity="0.59"/>
<rect x="88.8" y="446.7" width="33.4" height="0.8" fill="#f3c6cc" opacity="0.10"/>
<rect x="261.6" y="446.9" width="57.7" height="0.6" fill="#ffffff" opacity="0.25"/>
<rect x="170.6" y="398.8" width="58.2" height="0.9" fill="#f3c6cc" opacity="0.06"/>
<rect x="253.1" y="503.3" width="42.6" height="0.9" fill="#ffffff" opacity="0.55"/>
<rect x="266.8" y="469.2" width="28.2" height="0.9" fill="#ffffff" opacity="0.44"/>
<rect x="218.7" y="339.2" width="65.6" height="0.8" fill="#ffffff" opacity="0.46"/>
<rect x="58.8" y="410.3" width="22.3" height="0.7" fill="#f3c6cc" opacity="0.14"/>
<rect x="235.3" y="308.9" width="55.4" height="0.9" fill="#ffffff" opacity="0.45"/>
<rect x="151.5" y="523.0" width="36.5" height="0.6" fill="#ffffff" opacity="0.32"/>
<rect x="204.3" y="333.9" width="29.2" height="0.8" fill="#ffffff" opacity="0.39"/>
<rect x="11.1" y="325.4" width="69.8" height="0.8" fill="#ffffff" opacity="0.29"/>
<rect x="43.9" y="496.7" width="44.2" height="0.5" fill="#ffffff" opacity="0.43"/>
<rect x="289.4" y="294.4" width="61.4" height="0.6" fill="#ffffff" opacity="0.45"/>
<rect x="123.3" y="494.5" width="66.6" height="1.0" fill="#f3c6cc" opacity="0.14"/>
<rect x="9.1" y="353.6" width="18.9" height="0.5" fill="#ffffff" opacity="0.28"/>
<rect x="254.2" y="435.0" width="35.3" height="0.5" fill="#f3c6cc" opacity="0.15"/>
<rect x="114.9" y="445.9" width="13.7" height="0.8" fill="#f3c6cc" opacity="0.09"/>
<rect x="279.4" y="457.3" width="48.9" height="0.6" fill="#ffffff" opacity="0.41"/>
<rect x="289.8" y="544.6" width="20.2" height="0.7" fill="#ffffff" opacity="0.34"/>
<rect x="264.1" y="527.7" width="59.6" height="0.9" fill="#ffffff" opacity="0.53"/>
<rect x="287.9" y="459.0" width="9.6" height="1.0" fill="#ffffff" opacity="0.51"/>
<rect x="85.9" y="467.1" width="43.9" height="0.7" fill="#f3c6cc" opacity="0.07"/>
<rect x="34.5" y="354.4" width="36.8" height="0.6" fill="#ffffff" opacity="0.33"/>
<rect x="1.7" y="467.3" width="51.9" height="1.0" fill="#ffffff" opacity="0.26"/>
<rect x="272.8" y="344.6" width="61.5" height="0.7" fill="#f3c6cc" opacity="0.07"/>
<rect x="271.2" y="311.4" width="59.9" height="0.7" fill="#ffffff" opacity="0.41"/>
<rect x="138.5" y="506.3" width="46.2" height="0.5" fill="#ffffff" opacity="0.33"/>
<rect x="160.8" y="477.0" width="15.3" height="0.7" fill="#f3c6cc" opacity="0.09"/>
<rect x="77.8" y="327.2" width="59.7" height="0.7" fill="#ffffff" opacity="0.31"/>
<rect x="263.7" y="370.8" width="13.3" height="0.9" fill="#f3c6cc" opacity="0.07"/>
<rect x="60.1" y="464.8" width="36.6" height="0.6" fill="#ffffff" opacity="0.34"/>
<rect x="289.6" y="383.2" width="69.9" height="0.6" fill="#f3c6cc" opacity="0.07"/>
<rect x="14.9" y="525.9" width="52.5" height="0.5" fill="#ffffff" opacity="0.59"/>
<rect x="98.3" y="502.0" width="15.0" height="0.8" fill="#ffffff" opacity="0.54"/>
<rect x="126.1" y="335.3" width="64.4" height="0.6" fill="#ffffff" opacity="0.45"/>
<rect x="224.7" y="333.7" width="51.5" height="0.5" fill="#ffffff" opacity="0.28"/>
<rect x="143.8" y="448.7" width="23.5" height="0.9" fill="#ffffff" opacity="0.46"/>
<rect x="169.5" y="503.2" width="18.9" height="0.7" fill="#ffffff" opacity="0.51"/>
<rect x="14.3" y="479.1" width="57.9" height="0.9" fill="#ffffff" opacity="0.54"/>
<rect x="2.5" y="417.7" width="64.3" height="0.6" fill="#ffffff" opacity="0.56"/>
<rect x="242.7" y="335.3" width="29.5" height="0.8" fill="#ffffff" opacity="0.38"/>
<rect x="150.9" y="286.6" width="34.5" height="0.9" fill="#ffffff" opacity="0.29"/>
<rect x="252.6" y="504.6" width="26.5" height="0.9" fill="#f3c6cc" opacity="0.10"/>
<rect x="254.8" y="301.8" width="67.1" height="0.8" fill="#ffffff" opacity="0.43"/>
<rect x="4.1" y="429.6" width="67.9" height="0.6" fill="#ffffff" opacity="0.31"/>
<rect x="238.4" y="352.6" width="7.9" height="0.6" fill="#ffffff" opacity="0.49"/>
<rect x="174.3" y="290.1" width="42.9" height="0.6" fill="#ffffff" opacity="0.50"/>
<rect x="209.0" y="518.8" width="8.9" height="0.8" fill="#ffffff" opacity="0.42"/>
<rect x="33.9" y="360.5" width="32.0" height="0.9" fill="#ffffff" opacity="0.46"/>
<rect x="166.5" y="324.9" width="53.8" height="1.0" fill="#ffffff" opacity="0.54"/>
<rect x="121.7" y="389.7" width="59.7" height="1.0" fill="#ffffff" opacity="0.39"/>
<rect x="97.6" y="493.9" width="21.4" height="1.0" fill="#ffffff" opacity="0.40"/>
<rect x="266.5" y="501.3" width="58.2" height="0.8" fill="#f3c6cc" opacity="0.07"/>
<rect x="272.9" y="542.5" width="22.0" height="0.7" fill="#ffffff" opacity="0.47"/>
<rect x="18.4" y="427.9" width="33.7" height="0.6" fill="#ffffff" opacity="0.26"/>
<rect x="226.5" y="545.7" width="66.0" height="0.9" fill="#ffffff" opacity="0.53"/>
<rect x="8.1" y="522.8" width="47.1" height="0.6" fill="#ffffff" opacity="0.49"/>
<rect x="270.0" y="430.9" width="45.8" height="0.7" fill="#ffffff" opacity="0.43"/>
<rect x="82.6" y="540.6" width="25.5" height="0.8" fill="#ffffff" opacity="0.29"/>
<rect x="149.2" y="542.0" width="23.2" height="0.6" fill="#ffffff" opacity="0.44"/>
<rect x="36.6" y="318.7" width="24.8" height="0.6" fill="#ffffff" opacity="0.35"/>
<rect x="158.7" y="309.0" width="59.7" height="0.8" fill="#ffffff" opacity="0.45"/>
<rect x="207.0" y="339.4" width="35.5" height="0.7" fill="#ffffff" opacity="0.46"/>
<rect x="69.3" y="368.7" width="20.2" height="0.8" fill="#ffffff" opacity="0.38"/>
<rect x="101.8" y="288.6" width="61.2" height="0.7" fill="#ffffff" opacity="0.44"/>
<rect x="288.5" y="361.8" width="24.9" height="0.5" fill="#f3c6cc" opacity="0.08"/>
<rect x="127.4" y="519.2" width="10.0" height="0.9" fill="#ffffff" opacity="0.40"/>
<rect x="64.2" y="314.7" width="67.4" height="0.7" fill="#f3c6cc" opacity="0.08"/>
<rect x="196.7" y="380.0" width="45.4" height="0.8" fill="#f3c6cc" opacity="0.14"/>
<rect x="216.7" y="483.7" width="54.6" height="0.9" fill="#ffffff" opacity="0.52"/>
<rect x="35.4" y="530.9" width="61.7" height="0.8" fill="#ffffff" opacity="0.52"/>
<rect x="281.2" y="419.0" width="42.6" height="0.9" fill="#ffffff" opacity="0.52"/>
<rect x="109.7" y="448.4" width="34.9" height="0.6" fill="#ffffff" opacity="0.50"/>
<rect x="161.4" y="390.3" width="30.6" height="0.9" fill="#ffffff" opacity="0.53"/>
<rect x="128.6" y="419.5" width="17.8" height="0.8" fill="#ffffff" opacity="0.30"/>
<rect x="23.9" y="441.5" width="64.9" height="0.9" fill="#ffffff" opacity="0.55"/>
<rect x="58.1" y="542.7" width="33.3" height="0.5" fill="#f3c6cc" opacity="0.06"/>
<rect x="144.3" y="437.0" width="64.9" height="1.0" fill="#f3c6cc" opacity="0.11"/>
<rect x="150.2" y="424.3" width="49.9" height="0.8" fill="#ffffff" opacity="0.38"/>
<rect x="276.9" y="379.6" width="49.3" height="0.7" fill="#ffffff" opacity="0.28"/>
<rect x="163.1" y="393.0" width="42.7" height="0.7" fill="#f3c6cc" opacity="0.16"/>
<rect x="181.8" y="403.5" width="69.8" height="0.9" fill="#ffffff" opacity="0.44"/>
<rect x="91.6" y="331.2" width="68.6" height="0.6" fill="#f3c6cc" opacity="0.11"/>
<rect x="201.0" y="525.5" width="58.5" height="0.7" fill="#f3c6cc" opacity="0.15"/>
<rect x="83.3" y="327.4" width="38.7" height="0.6" fill="#ffffff" opacity="0.32"/>
<rect x="175.4" y="454.5" width="28.6" height="0.5" fill="#f3c6cc" opacity="0.12"/>
<rect x="229.7" y="395.8" width="25.6" height="0.7" fill="#ffffff" opacity="0.25"/>
<rect x="170.5" y="511.4" width="48.8" height="0.8" fill="#ffffff" opacity="0.42"/>
<rect x="188.3" y="356.8" width="40.0" height="0.7" fill="#f3c6cc" opacity="0.12"/>
<rect x="44.1" y="318.0" width="54.6" height="0.6" fill="#ffffff" opacity="0.29"/>
<rect x="240.2" y="425.6" width="45.2" height="0.5" fill="#f3c6cc" opacity="0.07"/>
<rect x="93.0" y="492.2" width="51.8" height="0.6" fill="#ffffff" opacity="0.31"/>
<rect x="263.9" y="312.1" width="43.3" height="0.7" fill="#ffffff" opacity="0.41"/>
<rect x="260.0" y="300.1" width="43.3" height="0.8" fill="#f3c6cc" opacity="0.10"/>
<rect x="10.9" y="352.3" width="65.6" height="0.9" fill="#f3c6cc" opacity="0.09"/>
<rect x="87.3" y="504.4" width="44.6" height="1.0" fill="#f3c6cc" opacity="0.11"/>
<rect x="112.7" y="350.6" width="52.0" height="0.9" fill="#ffffff" opacity="0.36"/>
<rect x="231.2" y="415.4" width="21.6" height="0.6" fill="#ffffff" opacity="0.38"/>
<rect x="83.5" y="546.2" width="41.9" height="0.7" fill="#ffffff" opacity="0.44"/>
<rect x="17.3" y="393.6" width="13.9" height="0.6" fill="#f3c6cc" opacity="0.10"/>
<rect x="81.4" y="336.7" width="21.2" height="0.7" fill="#ffffff" opacity="0.48"/>
<rect x="205.7" y="327.2" width="11.9" height="0.6" fill="#ffffff" opacity="0.54"/>
<rect x="244.0" y="404.4" width="57.5" height="0.9" fill="#ffffff" opacity="0.37"/>
<rect x="280.0" y="386.6" width="19.3" height="0.6" fill="#f3c6cc" opacity="0.11"/>
<rect x="36.5" y="406.9" width="51.2" height="0.8" fill="#ffffff" opacity="0.56"/>
<rect x="70.4" y="384.2" width="44.9" height="0.6" fill="#ffffff" opacity="0.56"/>
<rect x="157.6" y="423.1" width="23.3" height="0.8" fill="#f3c6cc" opacity="0.10"/>
<rect x="89.4" y="437.8" width="31.0" height="0.9" fill="#ffffff" opacity="0.31"/>
<rect x="193.0" y="371.6" width="13.0" height="0.8" fill="#ffffff" opacity="0.38"/>
<rect x="17.4" y="365.1" width="25.9" height="0.9" fill="#ffffff" opacity="0.29"/>
<rect x="116.7" y="361.2" width="64.2" height="0.9" fill="#f3c6cc" opacity="0.15"/>
<rect x="79.4" y="320.9" width="7.9" height="0.7" fill="#ffffff" opacity="0.48"/>
<rect x="191.9" y="396.1" width="50.8" height="0.7" fill="#ffffff" opacity="0.55"/>
<rect x="51.4" y="454.2" width="13.4" height="0.9" fill="#f3c6cc" opacity="0.13"/>
<rect x="9.8" y="296.3" width="16.4" height="0.7" fill="#ffffff" opacity="0.36"/>
<rect x="89.5" y="295.9" width="46.9" height="0.8" fill="#ffffff" opacity="0.54"/>
<rect x="72.9" y="477.7" width="33.8" height="0.5" fill="#ffffff" opacity="0.37"/>
<rect x="226.4" y="509.3" width="24.3" height="0.8" fill="#ffffff" opacity="0.55"/>
<rect x="69.9" y="298.1" width="13.1" height="1.0" fill="#f3c6cc" opacity="0.08"/>
<rect x="23.3" y="486.6" width="50.5" height="0.9" fill="#ffffff" opacity="0.51"/>
<rect x="24.5" y="360.9" width="66.6" height="0.8" fill="#ffffff" opacity="0.58"/>
<rect x="242.2" y="483.6" width="46.2" height="0.8" fill="#ffffff" opacity="0.27"/>
<rect x="148.6" y="400.4" width="65.4" height="0.5" fill="#ffffff" opacity="0.52"/>
<rect x="235.0" y="474.0" width="22.7" height="0.8" fill="#ffffff" opacity="0.59"/>
<rect x="71.5" y="431.4" width="9.8" height="0.6" fill="#ffffff" opacity="0.39"/>
<rect x="38.2" y="368.8" width="51.2" height="0.6" fill="#ffffff" opacity="0.33"/>
<rect x="128.9" y="423.7" width="65.9" height="0.9" fill="#ffffff" opacity="0.35"/>
<rect x="163.7" y="323.5" width="27.3" height="0.9" fill="#f3c6cc" opacity="0.11"/>
<rect x="194.1" y="330.8" width="44.3" height="0.9" fill="#ffffff" opacity="0.52"/>
<rect x="83.1" y="316.1" width="29.1" height="0.6" fill="#ffffff" opacity="0.27"/>
<rect x="204.4" y="338.3" width="34.7" height="0.7" fill="#ffffff" opacity="0.36"/>
<rect x="47.5" y="382.8" width="10.6" height="0.9" fill="#ffffff" opacity="0.60"/>
<rect x="209.0" y="307.9" width="68.7" height="0.7" fill="#ffffff" opacity="0.29"/>
<rect x="53.8" y="402.0" width="40.8" height="0.8" fill="#ffffff" opacity="0.57"/>
<rect x="273.2" y="453.9" width="47.8" height="0.6" fill="#ffffff" opacity="0.34"/>
<rect x="225.8" y="292.8" width="59.7" height="0.8" fill="#ffffff" opacity="0.32"/>
<rect x="270.6" y="512.4" width="16.8" height="0.9" fill="#f3c6cc" opacity="0.14"/>
<rect x="52.3" y="373.1" width="58.8" height="0.8" fill="#ffffff" opacity="0.38"/>
<rect x="242.6" y="384.5" width="21.3" height="0.8" fill="#ffffff" opacity="0.45"/>
<rect x="205.6" y="505.4" width="63.9" height="0.7" fill="#f3c6cc" opacity="0.11"/>
<rect x="86.1" y="327.7" width="43.2" height="0.6" fill="#ffffff" opacity="0.49"/>
<rect x="283.3" y="404.4" width="11.7" height="0.6" fill="#ffffff" opacity="0.40"/>
<rect x="-1.2" y="479.4" width="59.8" height="0.7" fill="#f3c6cc" opacity="0.14"/>
<rect x="192.7" y="361.4" width="38.9" height="0.7" fill="#ffffff" opacity="0.37"/>
<rect x="241.0" y="464.2" width="63.9" height="0.7" fill="#ffffff" opacity="0.35"/>
<rect x="100.4" y="436.6" width="18.5" height="0.7" fill="#ffffff" opacity="0.36"/>
<rect x="265.3" y="546.1" width="61.4" height="0.8" fill="#f3c6cc" opacity="0.16"/>
<rect x="15.7" y="503.1" width="49.3" height="0.8" fill="#ffffff" opacity="0.35"/>
<rect x="139.4" y="541.1" width="47.4" height="0.9" fill="#ffffff" opacity="0.37"/>
<rect x="53.6" y="292.9" width="49.4" height="0.8" fill="#ffffff" opacity="0.28"/>
<rect x="168.9" y="385.2" width="32.6" height="0.7" fill="#ffffff" opacity="0.45"/>
<rect x="51.1" y="316.1" width="63.0" height="0.9" fill="#ffffff" opacity="0.29"/>
<ellipse cx="87.5" cy="310.9" rx="2.3" ry="1.5" fill="#eeb3bc" opacity="0.25" filter="url(#bl2)"/>
<ellipse cx="169.9" cy="346.2" rx="2.4" ry="1.3" fill="#eeb3bc" opacity="0.25" filter="url(#bl2)"/>
<ellipse cx="179.4" cy="306.9" rx="2.1" ry="1.3" fill="#eeb3bc" opacity="0.24" filter="url(#bl2)"/>
<ellipse cx="254.8" cy="433.2" rx="2.6" ry="2.0" fill="#eeb3bc" opacity="0.17" filter="url(#bl2)"/>
<ellipse cx="289.6" cy="479.1" rx="1.7" ry="2.0" fill="#eeb3bc" opacity="0.23" filter="url(#bl2)"/>
<ellipse cx="65.0" cy="543.1" rx="2.3" ry="2.0" fill="#eeb3bc" opacity="0.18" filter="url(#bl2)"/>
<ellipse cx="230.8" cy="300.8" rx="1.9" ry="1.6" fill="#eeb3bc" opacity="0.15" filter="url(#bl2)"/>
<ellipse cx="181.0" cy="342.6" rx="1.9" ry="1.9" fill="#eeb3bc" opacity="0.24" filter="url(#bl2)"/>
<ellipse cx="261.7" cy="452.1" rx="2.8" ry="1.8" fill="#eeb3bc" opacity="0.33" filter="url(#bl2)"/>
<ellipse cx="256.8" cy="330.5" rx="2.6" ry="1.5" fill="#eeb3bc" opacity="0.30" filter="url(#bl2)"/>
<ellipse cx="204.6" cy="507.0" rx="1.7" ry="1.6" fill="#eeb3bc" opacity="0.30" filter="url(#bl2)"/>
<ellipse cx="277.9" cy="479.1" rx="1.6" ry="1.8" fill="#eeb3bc" opacity="0.17" filter="url(#bl2)"/>
<path d="M31,403 C38,410 44,417 50,421 C56,426 60,429 65,431 C70,436 74,441 79,445 C88,452 98,457 106,462 C114,468 122,474 129,479 C136,484 141,488 147,491 C155,497 162,503 170,508 C176,513 182,518 187,523" fill="none" stroke="#f0c2c8" stroke-width="1.4" opacity="0.55" filter="url(#bl3)"/>
<ellipse cx="95.7" cy="358.7" rx="2.25" ry="1.68" fill="#e8a3ad" opacity="0.7" filter="url(#bl2)"/>
<ellipse cx="65" cy="351.5" rx="2.25" ry="1.58" fill="#efb5bd" opacity="0.6" filter="url(#bl2)"/>
<ellipse cx="33.4" cy="403.6" rx="2.50" ry="1.68" fill="#efb8c0" opacity="0.6" filter="url(#bl2)"/>
<ellipse cx="257.8" cy="293" rx="1.88" ry="2.73" fill="#dd8a95" opacity="0.8" filter="url(#bl2)"/>
<ellipse cx="270.2" cy="319.8" rx="2.25" ry="1.68" fill="#e595a0" opacity="0.8" filter="url(#bl2)"/>
<ellipse cx="277" cy="330.8" rx="1.88" ry="1.37" fill="#eab0b8" opacity="0.6" filter="url(#bl2)"/>
<ellipse cx="164.8" cy="296.5" rx="1.88" ry="1.37" fill="#edbdc4" opacity="0.5" filter="url(#bl2)"/>
<ellipse cx="50.8" cy="422.3" rx="2.25" ry="1.58" fill="#efb5bd" opacity="0.6" filter="url(#bl2)"/>
<ellipse cx="20" cy="451.9" rx="1.88" ry="1.58" fill="#eaa8b2" opacity="0.6" filter="url(#bl2)"/>
<ellipse cx="231.2" cy="523.3" rx="2.00" ry="1.47" fill="#f3c8cd" opacity="0.6" filter="url(#bl2)"/>
<radialGradient id="sg637" cx="0.42" cy="0.45" r="0.6"><stop offset="0" stop-color="#d0001a"/><stop offset="0.55" stop-color="#d0001a"/><stop offset="1" stop-color="#e8202c"/></radialGradient>
<ellipse cx="144.3" cy="312.8" rx="6.2" ry="6.0" fill="#ffffff" opacity="0.45" filter="url(#bl2)"/>
<ellipse cx="145.8" cy="311.3" rx="4.5" ry="4.3" fill="#e8202c" opacity="0.35" filter="url(#bl2)"/>
<ellipse cx="145.8" cy="311.3" rx="3.7" ry="3.5" fill="url(#sg637)" filter="url(#bl3)"/>
<radialGradient id="sg641" cx="0.42" cy="0.45" r="0.6"><stop offset="0" stop-color="#5e000e"/><stop offset="0.55" stop-color="#5e000e"/><stop offset="1" stop-color="#c00018"/></radialGradient>
<ellipse cx="166.2" cy="460.9" rx="6.9" ry="6.3" fill="#ffffff" opacity="0.45" filter="url(#bl2)"/>
<ellipse cx="167.7" cy="459.4" rx="5.2" ry="4.6" fill="#c00018" opacity="0.35" filter="url(#bl2)"/>
<ellipse cx="167.7" cy="459.4" rx="4.4" ry="3.8" fill="url(#sg641)" filter="url(#bl3)"/>
<radialGradient id="sg645" cx="0.42" cy="0.45" r="0.6"><stop offset="0" stop-color="#a0000e"/><stop offset="0.55" stop-color="#a0000e"/><stop offset="1" stop-color="#d8101c"/></radialGradient>
<ellipse cx="158.1" cy="540.5" rx="6.9" ry="6.2" fill="#ffffff" opacity="0.45" filter="url(#bl2)"/>
<ellipse cx="159.6" cy="539.0" rx="5.2" ry="4.5" fill="#d8101c" opacity="0.35" filter="url(#bl2)"/>
<ellipse cx="159.6" cy="539.0" rx="4.4" ry="3.7" fill="url(#sg645)" filter="url(#bl3)"/>
</g>
<ellipse cx="97.5" cy="325.4" rx="2.8" ry="1.6" fill="#b03a45" filter="url(#bl1)"/>
<ellipse cx="98.1" cy="331.4" rx="3.8" ry="1.3" fill="#d81038" filter="url(#bl1)"/>
<line x1="89.5" y1="328.5" x2="107.2" y2="328.5" stroke="#ffffff" stroke-width="3.2" opacity="0.8" filter="url(#bl1)"/>
<line x1="90.20" y1="328.50" x2="106.70" y2="328.50" stroke="#1a261a" stroke-width="1.1" />
<rect x="18.00" y="285.40" width="274.20" height="268.40" fill="none" stroke="#3c3c3c" stroke-width="1.6" />
<line x1="253.70" y1="530.20" x2="284.80" y2="530.20" stroke="#404040" stroke-width="1.8" />
<line x1="253.70" y1="523.90" x2="253.70" y2="536.60" stroke="#404040" stroke-width="1.6" />
<line x1="284.80" y1="523.90" x2="284.80" y2="536.60" stroke="#404040" stroke-width="1.6" />
<text x="247.80" y="550.80" font-size="11.9" text-anchor="start" fill="#3a2e38" font-weight="normal" stroke="#3a2e38" stroke-width="0.22" textLength="41.3" lengthAdjust="spacingAndGlyphs" >100 nm</text>
<rect x="302.00" y="285.00" width="15.40" height="269.00" fill="url(#cbar)" stroke="none" stroke-width="1" />
<rect x="301.60" y="285.00" width="16.00" height="269.00" fill="none" stroke="#222" stroke-width="1.4" />
<line x1="317.60" y1="284.90" x2="328.50" y2="284.90" stroke="#555" stroke-width="1.5" />
<line x1="317.60" y1="313.80" x2="328.50" y2="313.80" stroke="#555" stroke-width="1.5" />
<line x1="317.60" y1="342.70" x2="328.50" y2="342.70" stroke="#555" stroke-width="1.5" />
<line x1="317.60" y1="371.60" x2="328.50" y2="371.60" stroke="#555" stroke-width="1.5" />
<line x1="317.60" y1="400.30" x2="328.50" y2="400.30" stroke="#555" stroke-width="1.5" />
<line x1="317.60" y1="428.60" x2="328.50" y2="428.60" stroke="#555" stroke-width="1.5" />
<line x1="317.60" y1="457.40" x2="328.50" y2="457.40" stroke="#555" stroke-width="1.5" />
<line x1="317.60" y1="486.00" x2="328.50" y2="486.00" stroke="#555" stroke-width="1.5" />
<line x1="317.60" y1="514.70" x2="328.50" y2="514.70" stroke="#555" stroke-width="1.5" />
<line x1="317.60" y1="554.00" x2="328.50" y2="554.00" stroke="#555" stroke-width="1.5" />
<text x="339.60" y="284.30" font-size="12" text-anchor="start" fill="#000" font-weight="normal" stroke="#000" stroke-width="0.22" textLength="16.2" lengthAdjust="spacingAndGlyphs" >nm</text>
<text x="341.20" y="297.85" font-size="12.2" text-anchor="start" fill="#000" font-weight="normal" stroke="#000" stroke-width="0.22" >9.0</text>
<text x="341.20" y="326.95" font-size="12.2" text-anchor="start" fill="#000" font-weight="normal" stroke="#000" stroke-width="0.22" >8.0</text>
<text x="341.20" y="355.75" font-size="12.2" text-anchor="start" fill="#000" font-weight="normal" stroke="#000" stroke-width="0.22" >7.0</text>
<text x="341.20" y="384.65" font-size="12.2" text-anchor="start" fill="#000" font-weight="normal" stroke="#000" stroke-width="0.22" >6.0</text>
<text x="341.20" y="413.55" font-size="12.2" text-anchor="start" fill="#000" font-weight="normal" stroke="#000" stroke-width="0.22" >5.0</text>
<text x="341.20" y="442.15" font-size="12.2" text-anchor="start" fill="#000" font-weight="normal" stroke="#000" stroke-width="0.22" >4.0</text>
<text x="341.20" y="470.75" font-size="12.2" text-anchor="start" fill="#000" font-weight="normal" stroke="#000" stroke-width="0.22" >3.0</text>
<text x="341.20" y="498.15" font-size="12.2" text-anchor="start" fill="#000" font-weight="normal" stroke="#000" stroke-width="0.22" >2.0</text>
<text x="341.20" y="527.55" font-size="12.2" text-anchor="start" fill="#000" font-weight="normal" stroke="#000" stroke-width="0.22" >1.0</text>
<text x="341.20" y="549.75" font-size="12.2" text-anchor="start" fill="#000" font-weight="normal" stroke="#000" stroke-width="0.22" >-0.4</text>
<g clip-path="url(#cld)">
<rect x="381.90" y="287.50" width="301.80" height="269.20" fill="url(#bgd)" stroke="none" stroke-width="1" />
<rect x="542.0" y="409.3" width="65.1" height="0.8" fill="#ffffff" opacity="0.43"/>
<rect x="526.6" y="337.2" width="46.3" height="0.7" fill="#f3c6cc" opacity="0.07"/>
<rect x="622.4" y="311.9" width="50.4" height="1.0" fill="#ffffff" opacity="0.59"/>
<rect x="560.0" y="463.5" width="16.1" height="0.5" fill="#ffffff" opacity="0.43"/>
<rect x="439.8" y="338.7" width="7.9" height="0.9" fill="#ffffff" opacity="0.40"/>
<rect x="567.9" y="427.2" width="38.0" height="0.6" fill="#ffffff" opacity="0.41"/>
<rect x="682.3" y="556.1" width="59.8" height="0.6" fill="#f3c6cc" opacity="0.09"/>
<rect x="384.5" y="365.3" width="55.0" height="0.7" fill="#ffffff" opacity="0.55"/>
<rect x="634.6" y="545.4" width="6.0" height="0.7" fill="#ffffff" opacity="0.57"/>
<rect x="489.8" y="551.4" width="10.7" height="0.6" fill="#ffffff" opacity="0.52"/>
<rect x="468.9" y="311.0" width="67.7" height="0.6" fill="#f3c6cc" opacity="0.07"/>
<rect x="381.2" y="314.7" width="57.0" height="0.7" fill="#ffffff" opacity="0.45"/>
<rect x="597.4" y="338.8" width="14.4" height="0.7" fill="#ffffff" opacity="0.29"/>
<rect x="448.7" y="344.8" width="68.1" height="0.9" fill="#f3c6cc" opacity="0.09"/>
<rect x="488.8" y="344.2" width="60.7" height="1.0" fill="#ffffff" opacity="0.29"/>
<rect x="445.0" y="344.9" width="55.5" height="0.5" fill="#ffffff" opacity="0.35"/>
<rect x="549.4" y="311.8" width="21.6" height="0.7" fill="#ffffff" opacity="0.38"/>
<rect x="517.6" y="545.7" width="42.8" height="0.6" fill="#f3c6cc" opacity="0.08"/>
<rect x="625.1" y="532.0" width="22.0" height="1.0" fill="#ffffff" opacity="0.51"/>
<rect x="667.7" y="340.4" width="62.5" height="0.6" fill="#ffffff" opacity="0.40"/>
<rect x="671.7" y="297.9" width="21.3" height="0.9" fill="#f3c6cc" opacity="0.09"/>
<rect x="456.3" y="448.1" width="17.2" height="0.6" fill="#f3c6cc" opacity="0.07"/>
<rect x="636.2" y="438.1" width="45.3" height="0.6" fill="#ffffff" opacity="0.57"/>
<rect x="448.5" y="292.0" width="34.5" height="0.7" fill="#ffffff" opacity="0.31"/>
<rect x="404.2" y="441.5" width="29.2" height="0.8" fill="#f3c6cc" opacity="0.16"/>
<rect x="550.0" y="473.6" width="15.0" height="1.0" fill="#ffffff" opacity="0.26"/>
<rect x="671.7" y="476.2" width="7.4" height="0.9" fill="#ffffff" opacity="0.42"/>
<rect x="683.5" y="373.3" width="10.8" height="1.0" fill="#ffffff" opacity="0.51"/>
<rect x="588.3" y="485.9" width="56.8" height="0.8" fill="#f3c6cc" opacity="0.10"/>
<rect x="642.2" y="530.0" width="32.7" height="0.8" fill="#f3c6cc" opacity="0.15"/>
<rect x="484.9" y="455.7" width="43.3" height="0.8" fill="#ffffff" opacity="0.28"/>
<rect x="645.0" y="554.9" width="52.6" height="0.8" fill="#ffffff" opacity="0.51"/>
<rect x="631.7" y="406.1" width="11.4" height="0.8" fill="#f3c6cc" opacity="0.06"/>
<rect x="436.0" y="417.0" width="50.7" height="1.0" fill="#ffffff" opacity="0.47"/>
<rect x="365.5" y="356.4" width="25.3" height="0.6" fill="#ffffff" opacity="0.32"/>
<rect x="574.3" y="531.3" width="34.3" height="0.8" fill="#f3c6cc" opacity="0.09"/>
<rect x="500.6" y="340.9" width="57.6" height="0.7" fill="#f3c6cc" opacity="0.15"/>
<rect x="463.7" y="444.5" width="14.7" height="0.9" fill="#ffffff" opacity="0.54"/>
<rect x="667.6" y="479.0" width="23.7" height="0.6" fill="#ffffff" opacity="0.41"/>
<rect x="495.1" y="345.1" width="46.0" height="0.9" fill="#ffffff" opacity="0.36"/>
<rect x="507.5" y="551.9" width="10.8" height="0.5" fill="#ffffff" opacity="0.56"/>
<rect x="545.5" y="478.3" width="25.8" height="0.6" fill="#f3c6cc" opacity="0.06"/>
<rect x="369.9" y="409.9" width="59.1" height="0.5" fill="#ffffff" opacity="0.30"/>
<rect x="505.6" y="456.9" width="46.3" height="1.0" fill="#ffffff" opacity="0.53"/>
<rect x="426.0" y="471.8" width="36.4" height="0.7" fill="#ffffff" opacity="0.25"/>
<rect x="419.5" y="479.8" width="23.4" height="0.8" fill="#ffffff" opacity="0.49"/>
<rect x="605.2" y="452.9" width="31.2" height="0.5" fill="#f3c6cc" opacity="0.15"/>
<rect x="594.4" y="538.6" width="14.3" height="1.0" fill="#ffffff" opacity="0.47"/>
<rect x="544.9" y="388.9" width="62.3" height="0.7" fill="#f3c6cc" opacity="0.15"/>
<rect x="427.8" y="462.8" width="52.2" height="0.9" fill="#f3c6cc" opacity="0.12"/>
<rect x="651.5" y="344.9" width="68.8" height="0.9" fill="#f3c6cc" opacity="0.11"/>
<rect x="654.7" y="373.8" width="60.8" height="0.7" fill="#ffffff" opacity="0.28"/>
<rect x="609.1" y="435.6" width="37.2" height="0.5" fill="#ffffff" opacity="0.53"/>
<rect x="417.5" y="502.8" width="27.4" height="0.6" fill="#f3c6cc" opacity="0.07"/>
<rect x="594.7" y="426.5" width="59.8" height="0.7" fill="#ffffff" opacity="0.58"/>
<rect x="389.6" y="543.0" width="20.2" height="0.9" fill="#ffffff" opacity="0.35"/>
<rect x="530.1" y="459.5" width="60.0" height="0.7" fill="#ffffff" opacity="0.36"/>
<rect x="651.7" y="515.0" width="19.3" height="0.8" fill="#f3c6cc" opacity="0.16"/>
<rect x="426.6" y="441.7" width="40.3" height="0.5" fill="#ffffff" opacity="0.46"/>
<rect x="528.0" y="548.5" width="31.6" height="0.7" fill="#f3c6cc" opacity="0.12"/>
<rect x="383.1" y="473.5" width="40.5" height="1.0" fill="#ffffff" opacity="0.58"/>
<rect x="514.2" y="360.0" width="14.1" height="1.0" fill="#ffffff" opacity="0.54"/>
<rect x="464.0" y="415.8" width="18.3" height="0.6" fill="#ffffff" opacity="0.57"/>
<rect x="369.2" y="497.3" width="18.4" height="0.7" fill="#ffffff" opacity="0.49"/>
<rect x="561.3" y="383.2" width="12.7" height="0.8" fill="#f3c6cc" opacity="0.07"/>
<rect x="425.5" y="354.9" width="39.9" height="0.7" fill="#ffffff" opacity="0.38"/>
<rect x="413.3" y="430.0" width="19.1" height="0.8" fill="#ffffff" opacity="0.47"/>
<rect x="558.7" y="516.7" width="60.8" height="0.9" fill="#ffffff" opacity="0.51"/>
<rect x="463.5" y="530.5" width="26.2" height="1.0" fill="#f3c6cc" opacity="0.08"/>
<rect x="405.0" y="526.4" width="21.3" height="0.5" fill="#f3c6cc" opacity="0.09"/>
<rect x="497.6" y="511.5" width="56.6" height="0.8" fill="#ffffff" opacity="0.39"/>
<rect x="426.6" y="292.3" width="49.7" height="0.6" fill="#f3c6cc" opacity="0.16"/>
<rect x="605.9" y="423.6" width="38.2" height="0.5" fill="#ffffff" opacity="0.32"/>
<rect x="373.9" y="316.1" width="41.3" height="0.6" fill="#ffffff" opacity="0.45"/>
<rect x="427.5" y="337.2" width="59.8" height="0.5" fill="#f3c6cc" opacity="0.15"/>
<rect x="668.1" y="304.2" width="35.6" height="0.7" fill="#f3c6cc" opacity="0.09"/>
<rect x="500.3" y="426.2" width="44.5" height="0.9" fill="#ffffff" opacity="0.50"/>
<rect x="508.0" y="336.3" width="53.3" height="0.6" fill="#ffffff" opacity="0.32"/>
<rect x="366.9" y="425.5" width="63.2" height="0.9" fill="#f3c6cc" opacity="0.13"/>
<rect x="492.1" y="456.9" width="44.4" height="0.9" fill="#ffffff" opacity="0.59"/>
<rect x="655.2" y="357.0" width="53.6" height="0.7" fill="#f3c6cc" opacity="0.14"/>
<rect x="645.0" y="528.8" width="50.5" height="0.7" fill="#f3c6cc" opacity="0.14"/>
<rect x="384.6" y="482.0" width="27.9" height="0.7" fill="#ffffff" opacity="0.25"/>
<rect x="562.7" y="459.4" width="20.9" height="0.7" fill="#f3c6cc" opacity="0.13"/>
<rect x="545.2" y="465.1" width="40.1" height="0.8" fill="#ffffff" opacity="0.60"/>
<rect x="607.0" y="476.3" width="68.7" height="0.9" fill="#ffffff" opacity="0.47"/>
<rect x="491.1" y="356.6" width="9.2" height="0.5" fill="#ffffff" opacity="0.38"/>
<rect x="653.3" y="355.0" width="41.2" height="0.8" fill="#ffffff" opacity="0.59"/>
<rect x="567.2" y="555.4" width="57.8" height="0.9" fill="#ffffff" opacity="0.46"/>
<rect x="661.2" y="299.6" width="16.2" height="0.7" fill="#ffffff" opacity="0.31"/>
<rect x="380.7" y="452.0" width="66.5" height="0.8" fill="#ffffff" opacity="0.43"/>
<rect x="453.9" y="385.9" width="47.9" height="0.9" fill="#ffffff" opacity="0.35"/>
<rect x="366.4" y="367.2" width="21.7" height="0.9" fill="#ffffff" opacity="0.30"/>
<rect x="650.7" y="392.5" width="53.9" height="1.0" fill="#ffffff" opacity="0.60"/>
<rect x="653.3" y="307.3" width="33.5" height="0.6" fill="#ffffff" opacity="0.59"/>
<rect x="663.5" y="428.4" width="52.3" height="0.9" fill="#ffffff" opacity="0.59"/>
<rect x="398.9" y="450.0" width="46.0" height="0.5" fill="#ffffff" opacity="0.32"/>
<rect x="401.9" y="429.7" width="34.3" height="0.6" fill="#ffffff" opacity="0.41"/>
<rect x="496.9" y="444.2" width="55.8" height="1.0" fill="#ffffff" opacity="0.60"/>
<rect x="438.6" y="485.2" width="13.3" height="0.8" fill="#f3c6cc" opacity="0.14"/>
<rect x="449.3" y="384.2" width="49.8" height="0.8" fill="#ffffff" opacity="0.46"/>
<rect x="423.0" y="490.3" width="21.9" height="0.9" fill="#f3c6cc" opacity="0.15"/>
<rect x="381.5" y="298.1" width="23.3" height="0.6" fill="#ffffff" opacity="0.47"/>
<rect x="385.2" y="433.3" width="11.5" height="0.8" fill="#ffffff" opacity="0.44"/>
<rect x="515.9" y="388.0" width="19.5" height="0.9" fill="#ffffff" opacity="0.51"/>
<rect x="400.4" y="307.5" width="57.8" height="0.6" fill="#ffffff" opacity="0.52"/>
<rect x="444.9" y="401.7" width="57.8" height="1.0" fill="#ffffff" opacity="0.48"/>
<rect x="538.4" y="375.1" width="53.8" height="0.7" fill="#f3c6cc" opacity="0.10"/>
<rect x="643.5" y="313.6" width="11.0" height="0.7" fill="#ffffff" opacity="0.45"/>
<rect x="458.1" y="472.0" width="55.6" height="0.8" fill="#ffffff" opacity="0.32"/>
<rect x="459.7" y="309.5" width="52.4" height="0.6" fill="#ffffff" opacity="0.35"/>
<rect x="595.5" y="383.8" width="29.4" height="0.8" fill="#ffffff" opacity="0.50"/>
<rect x="664.4" y="534.8" width="64.5" height="0.7" fill="#ffffff" opacity="0.53"/>
<rect x="490.5" y="373.0" width="65.8" height="0.7" fill="#f3c6cc" opacity="0.08"/>
<rect x="478.8" y="385.9" width="31.3" height="0.8" fill="#ffffff" opacity="0.32"/>
<rect x="535.9" y="502.1" width="59.5" height="0.9" fill="#ffffff" opacity="0.31"/>
<rect x="452.5" y="524.6" width="7.4" height="0.8" fill="#ffffff" opacity="0.44"/>
<rect x="571.5" y="547.7" width="57.5" height="0.9" fill="#ffffff" opacity="0.44"/>
<rect x="388.2" y="310.1" width="53.2" height="0.8" fill="#f3c6cc" opacity="0.07"/>
<rect x="601.9" y="326.2" width="47.5" height="0.9" fill="#ffffff" opacity="0.33"/>
<rect x="608.0" y="427.9" width="31.2" height="0.8" fill="#ffffff" opacity="0.59"/>
<rect x="534.8" y="420.4" width="52.1" height="0.7" fill="#f3c6cc" opacity="0.15"/>
<rect x="576.5" y="509.9" width="60.6" height="0.9" fill="#f3c6cc" opacity="0.14"/>
<rect x="567.9" y="545.3" width="39.5" height="0.7" fill="#f3c6cc" opacity="0.14"/>
<rect x="408.9" y="400.7" width="53.4" height="0.6" fill="#f3c6cc" opacity="0.10"/>
<rect x="498.6" y="342.5" width="24.7" height="0.7" fill="#f3c6cc" opacity="0.07"/>
<rect x="570.4" y="318.4" width="55.7" height="0.7" fill="#ffffff" opacity="0.27"/>
<rect x="654.5" y="444.7" width="8.3" height="0.6" fill="#ffffff" opacity="0.31"/>
<rect x="592.7" y="350.9" width="44.1" height="0.6" fill="#ffffff" opacity="0.31"/>
<rect x="605.7" y="333.9" width="26.0" height="0.7" fill="#ffffff" opacity="0.54"/>
<rect x="647.5" y="357.6" width="64.5" height="1.0" fill="#ffffff" opacity="0.44"/>
<rect x="433.0" y="417.4" width="9.2" height="0.7" fill="#f3c6cc" opacity="0.14"/>
<rect x="527.9" y="429.5" width="23.6" height="0.6" fill="#f3c6cc" opacity="0.13"/>
<rect x="514.0" y="290.4" width="29.8" height="0.8" fill="#f3c6cc" opacity="0.13"/>
<rect x="412.4" y="329.8" width="26.6" height="0.8" fill="#ffffff" opacity="0.55"/>
<rect x="681.5" y="459.0" width="23.1" height="0.9" fill="#ffffff" opacity="0.30"/>
<rect x="626.2" y="287.9" width="60.2" height="0.6" fill="#f3c6cc" opacity="0.07"/>
<rect x="393.2" y="480.4" width="36.7" height="0.8" fill="#ffffff" opacity="0.58"/>
<rect x="459.6" y="518.3" width="56.5" height="0.5" fill="#ffffff" opacity="0.57"/>
<rect x="429.0" y="509.9" width="40.8" height="0.9" fill="#ffffff" opacity="0.31"/>
<rect x="461.9" y="371.3" width="10.9" height="0.9" fill="#ffffff" opacity="0.41"/>
<rect x="583.0" y="384.3" width="12.8" height="1.0" fill="#ffffff" opacity="0.41"/>
<rect x="572.3" y="510.9" width="6.8" height="0.6" fill="#ffffff" opacity="0.50"/>
<rect x="509.3" y="439.4" width="6.7" height="0.6" fill="#f3c6cc" opacity="0.14"/>
<rect x="455.3" y="453.3" width="30.1" height="0.7" fill="#ffffff" opacity="0.35"/>
<rect x="576.4" y="393.1" width="22.4" height="0.7" fill="#ffffff" opacity="0.51"/>
<rect x="543.0" y="541.9" width="52.3" height="0.5" fill="#ffffff" opacity="0.54"/>
<rect x="392.3" y="325.4" width="49.4" height="0.7" fill="#f3c6cc" opacity="0.08"/>
<rect x="552.6" y="512.8" width="11.8" height="0.6" fill="#ffffff" opacity="0.30"/>
<rect x="385.3" y="397.0" width="64.9" height="0.8" fill="#ffffff" opacity="0.43"/>
<rect x="626.1" y="493.9" width="30.7" height="0.5" fill="#ffffff" opacity="0.39"/>
<rect x="587.1" y="395.4" width="68.8" height="0.8" fill="#f3c6cc" opacity="0.13"/>
<rect x="468.4" y="292.5" width="27.9" height="0.7" fill="#ffffff" opacity="0.29"/>
<rect x="615.7" y="424.6" width="58.8" height="0.9" fill="#ffffff" opacity="0.31"/>
<rect x="538.3" y="530.6" width="28.6" height="0.9" fill="#ffffff" opacity="0.30"/>
<rect x="528.0" y="553.1" width="51.8" height="1.0" fill="#f3c6cc" opacity="0.08"/>
<rect x="425.6" y="456.3" width="11.3" height="0.8" fill="#ffffff" opacity="0.45"/>
<rect x="660.9" y="376.1" width="29.1" height="1.0" fill="#ffffff" opacity="0.29"/>
<rect x="652.8" y="324.0" width="40.8" height="0.6" fill="#ffffff" opacity="0.45"/>
<rect x="681.2" y="532.3" width="58.3" height="0.9" fill="#ffffff" opacity="0.29"/>
<rect x="650.6" y="365.2" width="21.4" height="0.6" fill="#ffffff" opacity="0.54"/>
<rect x="386.4" y="435.0" width="8.0" height="1.0" fill="#ffffff" opacity="0.60"/>
<rect x="460.9" y="464.7" width="49.0" height="0.8" fill="#f3c6cc" opacity="0.10"/>
<rect x="367.2" y="503.9" width="18.8" height="0.7" fill="#ffffff" opacity="0.30"/>
<rect x="417.8" y="440.8" width="39.3" height="0.7" fill="#ffffff" opacity="0.45"/>
<rect x="374.1" y="460.2" width="48.9" height="0.8" fill="#ffffff" opacity="0.59"/>
<rect x="494.3" y="414.0" width="45.9" height="0.9" fill="#ffffff" opacity="0.52"/>
<rect x="682.0" y="418.3" width="59.6" height="0.7" fill="#f3c6cc" opacity="0.10"/>
<rect x="653.2" y="439.9" width="39.7" height="1.0" fill="#ffffff" opacity="0.40"/>
<rect x="379.5" y="373.8" width="52.4" height="0.8" fill="#f3c6cc" opacity="0.13"/>
<rect x="460.0" y="489.9" width="44.0" height="0.7" fill="#ffffff" opacity="0.29"/>
<rect x="489.6" y="422.8" width="9.3" height="0.6" fill="#ffffff" opacity="0.43"/>
<rect x="489.2" y="370.0" width="21.1" height="1.0" fill="#ffffff" opacity="0.57"/>
<rect x="640.7" y="466.7" width="33.0" height="0.9" fill="#f3c6cc" opacity="0.08"/>
<rect x="652.6" y="440.1" width="12.3" height="0.8" fill="#f3c6cc" opacity="0.07"/>
<rect x="362.1" y="543.5" width="21.6" height="0.5" fill="#ffffff" opacity="0.36"/>
<rect x="624.3" y="528.5" width="31.4" height="0.5" fill="#ffffff" opacity="0.45"/>
<rect x="651.0" y="295.9" width="25.7" height="1.0" fill="#ffffff" opacity="0.58"/>
<rect x="428.4" y="414.7" width="24.9" height="0.6" fill="#f3c6cc" opacity="0.15"/>
<rect x="475.9" y="513.1" width="36.2" height="1.0" fill="#ffffff" opacity="0.56"/>
<rect x="565.4" y="341.9" width="18.3" height="0.6" fill="#f3c6cc" opacity="0.07"/>
<rect x="462.6" y="482.9" width="63.6" height="0.6" fill="#f3c6cc" opacity="0.13"/>
<rect x="663.7" y="474.8" width="34.5" height="0.7" fill="#ffffff" opacity="0.33"/>
<rect x="425.1" y="478.8" width="17.6" height="0.9" fill="#ffffff" opacity="0.48"/>
<rect x="574.9" y="387.8" width="62.6" height="0.7" fill="#ffffff" opacity="0.33"/>
<rect x="576.6" y="537.0" width="23.7" height="1.0" fill="#ffffff" opacity="0.28"/>
<rect x="531.9" y="406.0" width="40.0" height="0.6" fill="#ffffff" opacity="0.46"/>
<rect x="620.4" y="355.0" width="11.6" height="0.6" fill="#ffffff" opacity="0.51"/>
<rect x="538.3" y="362.6" width="17.9" height="0.5" fill="#f3c6cc" opacity="0.16"/>
<rect x="603.4" y="411.8" width="30.6" height="0.6" fill="#f3c6cc" opacity="0.11"/>
<rect x="569.5" y="437.2" width="29.0" height="0.8" fill="#ffffff" opacity="0.52"/>
<rect x="633.9" y="423.6" width="49.8" height="0.6" fill="#ffffff" opacity="0.58"/>
<rect x="415.1" y="497.4" width="44.9" height="0.9" fill="#ffffff" opacity="0.40"/>
<rect x="616.5" y="499.2" width="21.1" height="0.8" fill="#ffffff" opacity="0.33"/>
<rect x="373.3" y="421.8" width="44.2" height="0.9" fill="#f3c6cc" opacity="0.12"/>
<rect x="410.8" y="336.0" width="7.1" height="0.7" fill="#ffffff" opacity="0.40"/>
<rect x="618.9" y="358.3" width="10.6" height="0.8" fill="#f3c6cc" opacity="0.12"/>
<rect x="438.5" y="500.6" width="15.4" height="0.7" fill="#ffffff" opacity="0.26"/>
<rect x="531.0" y="454.7" width="22.9" height="0.9" fill="#ffffff" opacity="0.28"/>
<rect x="443.9" y="333.7" width="16.2" height="0.9" fill="#ffffff" opacity="0.54"/>
<rect x="494.0" y="304.0" width="29.3" height="0.5" fill="#ffffff" opacity="0.59"/>
<rect x="606.9" y="419.3" width="69.1" height="0.9" fill="#ffffff" opacity="0.41"/>
<rect x="439.3" y="298.1" width="63.0" height="0.6" fill="#ffffff" opacity="0.39"/>
<rect x="386.5" y="401.8" width="8.2" height="0.9" fill="#f3c6cc" opacity="0.14"/>
<rect x="443.4" y="349.4" width="41.3" height="1.0" fill="#ffffff" opacity="0.41"/>
<rect x="470.4" y="385.5" width="68.8" height="0.7" fill="#ffffff" opacity="0.26"/>
<rect x="380.7" y="462.4" width="28.0" height="0.8" fill="#ffffff" opacity="0.55"/>
<rect x="510.8" y="526.1" width="31.1" height="0.9" fill="#f3c6cc" opacity="0.10"/>
<rect x="473.7" y="345.5" width="17.8" height="0.6" fill="#ffffff" opacity="0.31"/>
<rect x="512.4" y="345.2" width="25.7" height="0.8" fill="#ffffff" opacity="0.60"/>
<rect x="427.7" y="519.7" width="30.5" height="0.7" fill="#ffffff" opacity="0.49"/>
<rect x="367.9" y="361.4" width="17.7" height="1.0" fill="#ffffff" opacity="0.39"/>
<rect x="448.3" y="480.0" width="29.1" height="0.7" fill="#ffffff" opacity="0.58"/>
<rect x="594.7" y="493.6" width="64.1" height="0.7" fill="#ffffff" opacity="0.36"/>
<rect x="645.9" y="309.9" width="26.8" height="0.5" fill="#f3c6cc" opacity="0.11"/>
<rect x="438.6" y="393.6" width="8.6" height="0.5" fill="#ffffff" opacity="0.46"/>
<rect x="498.4" y="371.6" width="40.8" height="0.6" fill="#ffffff" opacity="0.50"/>
<rect x="576.3" y="482.8" width="15.4" height="0.9" fill="#ffffff" opacity="0.35"/>
<rect x="486.3" y="396.6" width="61.4" height="0.7" fill="#ffffff" opacity="0.35"/>
<rect x="375.0" y="345.6" width="7.6" height="0.9" fill="#ffffff" opacity="0.45"/>
<rect x="457.8" y="550.1" width="48.9" height="0.8" fill="#f3c6cc" opacity="0.08"/>
<rect x="669.3" y="466.9" width="61.6" height="0.5" fill="#ffffff" opacity="0.47"/>
<rect x="488.2" y="402.6" width="9.8" height="0.7" fill="#ffffff" opacity="0.36"/>
<rect x="412.9" y="362.8" width="31.8" height="0.8" fill="#ffffff" opacity="0.31"/>
<rect x="391.8" y="352.1" width="27.9" height="0.8" fill="#ffffff" opacity="0.30"/>
<rect x="539.9" y="476.3" width="50.8" height="0.7" fill="#ffffff" opacity="0.39"/>
<rect x="492.0" y="304.4" width="9.5" height="0.7" fill="#ffffff" opacity="0.46"/>
<rect x="443.4" y="375.1" width="7.5" height="0.8" fill="#ffffff" opacity="0.56"/>
<rect x="576.9" y="358.0" width="17.9" height="1.0" fill="#ffffff" opacity="0.47"/>
<rect x="547.3" y="385.1" width="66.3" height="0.8" fill="#f3c6cc" opacity="0.12"/>
<rect x="495.6" y="398.1" width="23.7" height="0.7" fill="#f3c6cc" opacity="0.15"/>
<rect x="374.2" y="532.4" width="14.7" height="0.7" fill="#ffffff" opacity="0.36"/>
<rect x="410.1" y="550.5" width="18.3" height="0.6" fill="#ffffff" opacity="0.49"/>
<rect x="536.9" y="287.8" width="31.2" height="0.8" fill="#ffffff" opacity="0.42"/>
<rect x="562.8" y="435.1" width="41.9" height="0.7" fill="#f3c6cc" opacity="0.16"/>
<rect x="647.1" y="380.8" width="26.1" height="0.8" fill="#f3c6cc" opacity="0.13"/>
<rect x="627.2" y="547.0" width="16.2" height="0.8" fill="#ffffff" opacity="0.42"/>
<rect x="453.8" y="387.0" width="53.9" height="0.6" fill="#ffffff" opacity="0.33"/>
<rect x="419.1" y="375.0" width="38.9" height="0.5" fill="#ffffff" opacity="0.27"/>
<rect x="588.7" y="315.0" width="13.2" height="0.7" fill="#ffffff" opacity="0.52"/>
<rect x="640.7" y="331.3" width="61.7" height="0.8" fill="#ffffff" opacity="0.34"/>
<rect x="488.1" y="501.9" width="51.8" height="0.7" fill="#ffffff" opacity="0.50"/>
<rect x="606.2" y="377.4" width="59.9" height="0.7" fill="#f3c6cc" opacity="0.12"/>
<rect x="562.4" y="477.8" width="59.2" height="0.7" fill="#f3c6cc" opacity="0.07"/>
<rect x="436.2" y="467.7" width="17.8" height="1.0" fill="#ffffff" opacity="0.45"/>
<rect x="404.9" y="548.7" width="50.0" height="0.7" fill="#ffffff" opacity="0.47"/>
<rect x="680.1" y="538.8" width="9.1" height="0.5" fill="#f3c6cc" opacity="0.07"/>
<rect x="597.2" y="364.5" width="69.6" height="0.5" fill="#ffffff" opacity="0.37"/>
<rect x="517.3" y="433.6" width="29.9" height="0.9" fill="#ffffff" opacity="0.53"/>
<rect x="487.9" y="363.9" width="45.5" height="0.7" fill="#f3c6cc" opacity="0.16"/>
<rect x="537.6" y="474.3" width="57.2" height="0.6" fill="#ffffff" opacity="0.31"/>
<rect x="442.8" y="538.8" width="37.2" height="0.5" fill="#ffffff" opacity="0.36"/>
<rect x="408.1" y="439.8" width="46.0" height="0.7" fill="#ffffff" opacity="0.33"/>
<rect x="445.4" y="386.0" width="9.3" height="0.7" fill="#ffffff" opacity="0.56"/>
<rect x="420.6" y="308.6" width="36.9" height="0.9" fill="#f3c6cc" opacity="0.08"/>
<rect x="495.3" y="417.9" width="57.6" height="0.8" fill="#ffffff" opacity="0.27"/>
<rect x="562.4" y="464.3" width="23.7" height="1.0" fill="#f3c6cc" opacity="0.15"/>
<rect x="630.2" y="406.8" width="52.4" height="0.6" fill="#ffffff" opacity="0.26"/>
<rect x="385.9" y="319.5" width="29.0" height="0.8" fill="#f3c6cc" opacity="0.09"/>
<rect x="429.5" y="290.3" width="67.4" height="0.9" fill="#ffffff" opacity="0.43"/>
<rect x="598.6" y="500.8" width="31.6" height="0.9" fill="#f3c6cc" opacity="0.14"/>
<rect x="394.3" y="552.9" width="66.8" height="0.6" fill="#ffffff" opacity="0.50"/>
<rect x="369.5" y="532.4" width="42.9" height="0.7" fill="#ffffff" opacity="0.39"/>
<rect x="622.8" y="464.4" width="29.3" height="0.6" fill="#ffffff" opacity="0.37"/>
<rect x="465.4" y="531.2" width="12.0" height="0.6" fill="#ffffff" opacity="0.51"/>
<rect x="537.7" y="487.6" width="49.5" height="0.6" fill="#ffffff" opacity="0.29"/>
<rect x="500.5" y="381.8" width="6.6" height="0.7" fill="#ffffff" opacity="0.39"/>
<rect x="668.3" y="432.1" width="19.1" height="0.9" fill="#f3c6cc" opacity="0.09"/>
<rect x="679.7" y="316.7" width="33.5" height="0.7" fill="#f3c6cc" opacity="0.08"/>
<rect x="419.1" y="477.6" width="23.5" height="0.7" fill="#ffffff" opacity="0.58"/>
<rect x="476.8" y="336.9" width="69.3" height="0.7" fill="#ffffff" opacity="0.47"/>
<rect x="430.2" y="460.8" width="45.4" height="0.8" fill="#f3c6cc" opacity="0.15"/>
<rect x="544.6" y="423.4" width="13.3" height="0.7" fill="#f3c6cc" opacity="0.13"/>
<rect x="496.9" y="466.6" width="30.6" height="0.8" fill="#ffffff" opacity="0.46"/>
<rect x="372.3" y="426.2" width="46.1" height="0.8" fill="#ffffff" opacity="0.46"/>
<rect x="410.8" y="538.3" width="36.0" height="0.7" fill="#f3c6cc" opacity="0.13"/>
<rect x="680.3" y="485.8" width="31.7" height="1.0" fill="#f3c6cc" opacity="0.07"/>
<rect x="437.2" y="419.7" width="59.8" height="0.9" fill="#ffffff" opacity="0.58"/>
<rect x="526.5" y="502.2" width="69.6" height="0.9" fill="#ffffff" opacity="0.55"/>
<rect x="621.6" y="355.0" width="35.1" height="0.6" fill="#ffffff" opacity="0.55"/>
<rect x="569.0" y="362.8" width="10.7" height="0.7" fill="#ffffff" opacity="0.53"/>
<rect x="619.3" y="352.6" width="60.7" height="1.0" fill="#f3c6cc" opacity="0.11"/>
<rect x="410.7" y="502.0" width="29.4" height="0.7" fill="#ffffff" opacity="0.26"/>
<rect x="630.2" y="520.3" width="13.5" height="0.9" fill="#ffffff" opacity="0.39"/>
<rect x="652.1" y="453.6" width="10.6" height="0.8" fill="#f3c6cc" opacity="0.08"/>
<rect x="596.1" y="523.5" width="18.6" height="0.5" fill="#ffffff" opacity="0.40"/>
<rect x="463.4" y="378.9" width="46.3" height="0.8" fill="#ffffff" opacity="0.46"/>
<rect x="403.1" y="336.1" width="50.4" height="0.6" fill="#ffffff" opacity="0.30"/>
<rect x="558.2" y="540.8" width="28.9" height="0.8" fill="#ffffff" opacity="0.60"/>
<rect x="477.9" y="485.7" width="25.9" height="0.8" fill="#ffffff" opacity="0.30"/>
<rect x="625.8" y="401.8" width="32.2" height="1.0" fill="#ffffff" opacity="0.43"/>
<rect x="588.3" y="380.7" width="21.0" height="0.9" fill="#ffffff" opacity="0.35"/>
<rect x="636.9" y="364.6" width="49.3" height="0.7" fill="#ffffff" opacity="0.58"/>
<rect x="555.4" y="487.6" width="34.7" height="0.6" fill="#ffffff" opacity="0.40"/>
<rect x="669.1" y="406.2" width="24.7" height="0.6" fill="#ffffff" opacity="0.49"/>
<rect x="404.4" y="398.3" width="63.3" height="0.7" fill="#ffffff" opacity="0.40"/>
<rect x="635.5" y="508.4" width="43.8" height="0.9" fill="#ffffff" opacity="0.28"/>
<rect x="478.9" y="311.3" width="30.0" height="0.7" fill="#f3c6cc" opacity="0.13"/>
<rect x="667.5" y="529.2" width="7.5" height="0.7" fill="#ffffff" opacity="0.41"/>
<rect x="463.6" y="412.6" width="48.9" height="1.0" fill="#ffffff" opacity="0.59"/>
<rect x="489.1" y="554.7" width="59.0" height="1.0" fill="#ffffff" opacity="0.50"/>
<rect x="510.6" y="305.4" width="31.7" height="1.0" fill="#ffffff" opacity="0.33"/>
<rect x="480.9" y="343.9" width="15.1" height="0.5" fill="#ffffff" opacity="0.51"/>
<rect x="570.7" y="332.4" width="45.9" height="0.9" fill="#f3c6cc" opacity="0.09"/>
<rect x="611.6" y="484.3" width="13.7" height="0.9" fill="#ffffff" opacity="0.26"/>
<rect x="650.2" y="541.8" width="7.5" height="0.8" fill="#ffffff" opacity="0.44"/>
<rect x="615.9" y="317.4" width="25.3" height="0.8" fill="#ffffff" opacity="0.29"/>
<rect x="390.3" y="322.4" width="38.8" height="0.6" fill="#ffffff" opacity="0.52"/>
<rect x="379.4" y="398.9" width="19.9" height="0.7" fill="#ffffff" opacity="0.45"/>
<rect x="395.5" y="516.5" width="60.4" height="0.8" fill="#ffffff" opacity="0.59"/>
<rect x="558.9" y="396.9" width="61.3" height="0.5" fill="#f3c6cc" opacity="0.10"/>
<rect x="625.3" y="328.9" width="53.0" height="0.8" fill="#f3c6cc" opacity="0.08"/>
<rect x="397.4" y="295.2" width="25.2" height="0.9" fill="#f3c6cc" opacity="0.12"/>
<rect x="495.8" y="299.9" width="11.0" height="1.0" fill="#ffffff" opacity="0.29"/>
<rect x="519.3" y="376.0" width="47.9" height="0.8" fill="#f3c6cc" opacity="0.15"/>
<rect x="652.8" y="422.4" width="31.2" height="0.6" fill="#ffffff" opacity="0.51"/>
<rect x="500.0" y="386.5" width="36.5" height="0.7" fill="#ffffff" opacity="0.40"/>
<rect x="630.8" y="300.8" width="10.0" height="0.7" fill="#ffffff" opacity="0.44"/>
<rect x="393.8" y="347.4" width="29.8" height="0.6" fill="#ffffff" opacity="0.42"/>
<rect x="518.7" y="489.3" width="6.6" height="0.5" fill="#ffffff" opacity="0.59"/>
<rect x="671.1" y="447.2" width="29.4" height="0.7" fill="#ffffff" opacity="0.38"/>
<rect x="551.6" y="451.5" width="26.2" height="0.9" fill="#ffffff" opacity="0.43"/>
<rect x="391.8" y="301.8" width="22.1" height="0.7" fill="#ffffff" opacity="0.53"/>
<rect x="491.4" y="519.0" width="24.3" height="1.0" fill="#ffffff" opacity="0.28"/>
<rect x="467.5" y="511.3" width="26.3" height="0.8" fill="#f3c6cc" opacity="0.14"/>
<rect x="607.6" y="302.8" width="9.1" height="1.0" fill="#ffffff" opacity="0.44"/>
<rect x="369.1" y="459.4" width="65.8" height="0.5" fill="#f3c6cc" opacity="0.12"/>
<rect x="496.5" y="485.9" width="49.5" height="0.5" fill="#f3c6cc" opacity="0.15"/>
<rect x="503.7" y="497.9" width="54.1" height="0.7" fill="#ffffff" opacity="0.41"/>
<rect x="464.8" y="319.3" width="53.0" height="0.9" fill="#ffffff" opacity="0.29"/>
<rect x="538.3" y="466.9" width="13.2" height="1.0" fill="#ffffff" opacity="0.36"/>
<rect x="658.7" y="438.3" width="19.5" height="0.9" fill="#ffffff" opacity="0.44"/>
<rect x="643.1" y="320.7" width="36.2" height="0.7" fill="#ffffff" opacity="0.40"/>
<rect x="660.6" y="469.0" width="37.6" height="0.9" fill="#ffffff" opacity="0.39"/>
<rect x="600.8" y="315.8" width="16.7" height="0.7" fill="#ffffff" opacity="0.32"/>
<rect x="474.4" y="331.6" width="43.8" height="0.8" fill="#ffffff" opacity="0.39"/>
<rect x="477.2" y="514.2" width="43.4" height="0.7" fill="#ffffff" opacity="0.59"/>
<rect x="437.1" y="475.2" width="22.7" height="0.6" fill="#f3c6cc" opacity="0.12"/>
<rect x="627.3" y="304.8" width="30.2" height="0.8" fill="#f3c6cc" opacity="0.10"/>
<rect x="675.9" y="438.1" width="64.2" height="0.6" fill="#ffffff" opacity="0.42"/>
<rect x="394.8" y="490.2" width="25.6" height="0.8" fill="#f3c6cc" opacity="0.06"/>
<rect x="539.4" y="440.4" width="27.3" height="0.9" fill="#ffffff" opacity="0.58"/>
<rect x="393.3" y="504.4" width="56.2" height="0.8" fill="#ffffff" opacity="0.32"/>
<rect x="400.8" y="451.7" width="55.0" height="1.0" fill="#ffffff" opacity="0.56"/>
<rect x="479.0" y="473.1" width="66.9" height="0.9" fill="#f3c6cc" opacity="0.09"/>
<rect x="447.1" y="483.2" width="21.9" height="0.6" fill="#ffffff" opacity="0.44"/>
<rect x="443.3" y="366.4" width="14.4" height="0.6" fill="#ffffff" opacity="0.35"/>
<rect x="525.8" y="362.2" width="61.9" height="0.9" fill="#ffffff" opacity="0.55"/>
<rect x="536.9" y="451.5" width="53.0" height="1.0" fill="#ffffff" opacity="0.48"/>
<rect x="445.5" y="496.2" width="9.5" height="0.9" fill="#f3c6cc" opacity="0.10"/>
<rect x="507.6" y="350.3" width="29.7" height="0.8" fill="#f3c6cc" opacity="0.15"/>
<rect x="474.1" y="439.9" width="20.9" height="1.0" fill="#f3c6cc" opacity="0.07"/>
<rect x="385.0" y="464.4" width="63.7" height="0.6" fill="#ffffff" opacity="0.45"/>
<rect x="461.4" y="553.7" width="61.8" height="0.5" fill="#ffffff" opacity="0.48"/>
<rect x="545.6" y="295.5" width="68.9" height="0.9" fill="#ffffff" opacity="0.55"/>
<rect x="386.7" y="427.8" width="39.7" height="0.7" fill="#ffffff" opacity="0.43"/>
<rect x="425.5" y="421.8" width="51.1" height="0.5" fill="#ffffff" opacity="0.42"/>
<rect x="541.3" y="418.6" width="68.2" height="0.7" fill="#ffffff" opacity="0.30"/>
<rect x="587.8" y="377.9" width="66.1" height="1.0" fill="#f3c6cc" opacity="0.15"/>
<rect x="662.8" y="518.6" width="7.3" height="0.8" fill="#ffffff" opacity="0.46"/>
<rect x="559.2" y="452.5" width="65.7" height="1.0" fill="#ffffff" opacity="0.43"/>
<rect x="397.9" y="296.1" width="61.6" height="0.5" fill="#f3c6cc" opacity="0.06"/>
<rect x="583.5" y="510.9" width="39.3" height="0.9" fill="#ffffff" opacity="0.52"/>
<rect x="383.8" y="287.7" width="56.8" height="0.7" fill="#f3c6cc" opacity="0.14"/>
<rect x="473.5" y="377.8" width="7.0" height="0.8" fill="#f3c6cc" opacity="0.09"/>
<rect x="469.8" y="429.1" width="49.2" height="0.9" fill="#ffffff" opacity="0.33"/>
<rect x="410.2" y="334.8" width="22.2" height="0.7" fill="#ffffff" opacity="0.52"/>
<rect x="572.5" y="351.6" width="22.7" height="0.9" fill="#ffffff" opacity="0.34"/>
<rect x="436.6" y="337.2" width="25.3" height="0.8" fill="#ffffff" opacity="0.50"/>
<rect x="535.7" y="500.3" width="11.0" height="0.6" fill="#f3c6cc" opacity="0.08"/>
<rect x="680.4" y="399.0" width="29.7" height="1.0" fill="#ffffff" opacity="0.57"/>
<rect x="405.5" y="391.7" width="56.5" height="0.9" fill="#f3c6cc" opacity="0.09"/>
<rect x="454.3" y="389.7" width="44.0" height="0.9" fill="#f3c6cc" opacity="0.11"/>
<rect x="522.5" y="291.2" width="30.3" height="0.6" fill="#ffffff" opacity="0.57"/>
<rect x="644.5" y="342.8" width="67.5" height="1.0" fill="#f3c6cc" opacity="0.09"/>
<rect x="591.8" y="325.7" width="66.5" height="0.8" fill="#ffffff" opacity="0.30"/>
<rect x="595.7" y="525.1" width="66.8" height="0.6" fill="#ffffff" opacity="0.38"/>
<rect x="664.0" y="361.0" width="10.6" height="0.5" fill="#ffffff" opacity="0.37"/>
<rect x="420.7" y="370.1" width="13.9" height="0.8" fill="#ffffff" opacity="0.44"/>
<rect x="531.4" y="492.7" width="66.6" height="0.5" fill="#ffffff" opacity="0.33"/>
<rect x="606.7" y="370.8" width="65.1" height="0.7" fill="#ffffff" opacity="0.31"/>
<rect x="456.6" y="440.5" width="56.7" height="0.8" fill="#f3c6cc" opacity="0.11"/>
<rect x="511.6" y="515.2" width="18.2" height="0.5" fill="#f3c6cc" opacity="0.16"/>
<rect x="490.8" y="492.8" width="9.3" height="0.9" fill="#ffffff" opacity="0.31"/>
<rect x="368.2" y="344.5" width="20.1" height="0.8" fill="#f3c6cc" opacity="0.11"/>
<rect x="420.6" y="412.7" width="7.0" height="0.6" fill="#ffffff" opacity="0.26"/>
<rect x="480.8" y="454.1" width="36.3" height="0.7" fill="#ffffff" opacity="0.36"/>
<rect x="548.9" y="525.4" width="32.7" height="0.7" fill="#ffffff" opacity="0.41"/>
<rect x="437.0" y="533.5" width="65.9" height="0.6" fill="#f3c6cc" opacity="0.15"/>
<rect x="678.7" y="424.5" width="24.5" height="0.6" fill="#ffffff" opacity="0.50"/>
<rect x="412.6" y="444.6" width="66.6" height="0.8" fill="#ffffff" opacity="0.28"/>
<rect x="541.9" y="380.9" width="37.8" height="0.7" fill="#f3c6cc" opacity="0.11"/>
<rect x="521.7" y="287.9" width="23.2" height="0.7" fill="#ffffff" opacity="0.47"/>
<rect x="522.0" y="311.7" width="36.8" height="0.6" fill="#ffffff" opacity="0.59"/>
<rect x="389.1" y="406.7" width="57.2" height="0.9" fill="#ffffff" opacity="0.54"/>
<rect x="652.4" y="356.1" width="38.3" height="1.0" fill="#ffffff" opacity="0.44"/>
<rect x="517.1" y="419.4" width="24.6" height="0.7" fill="#f3c6cc" opacity="0.11"/>
<rect x="431.1" y="340.4" width="59.4" height="1.0" fill="#f3c6cc" opacity="0.16"/>
<rect x="618.5" y="471.9" width="51.5" height="0.6" fill="#f3c6cc" opacity="0.14"/>
<rect x="459.5" y="506.8" width="21.6" height="0.8" fill="#f3c6cc" opacity="0.06"/>
<rect x="616.7" y="379.9" width="45.1" height="0.8" fill="#f3c6cc" opacity="0.15"/>
<rect x="576.6" y="304.9" width="13.0" height="0.7" fill="#f3c6cc" opacity="0.15"/>
<rect x="585.3" y="337.6" width="54.5" height="0.6" fill="#f3c6cc" opacity="0.12"/>
<rect x="380.7" y="483.1" width="61.5" height="0.9" fill="#f3c6cc" opacity="0.14"/>
<rect x="665.5" y="440.7" width="46.9" height="0.7" fill="#ffffff" opacity="0.38"/>
<rect x="413.7" y="293.7" width="56.9" height="0.9" fill="#ffffff" opacity="0.48"/>
<rect x="527.9" y="474.4" width="26.2" height="0.8" fill="#ffffff" opacity="0.32"/>
<rect x="665.1" y="472.2" width="27.2" height="0.6" fill="#f3c6cc" opacity="0.15"/>
<rect x="561.2" y="543.8" width="67.6" height="0.6" fill="#f3c6cc" opacity="0.09"/>
<rect x="518.9" y="428.2" width="8.3" height="0.7" fill="#f3c6cc" opacity="0.11"/>
<rect x="442.3" y="487.9" width="18.8" height="0.7" fill="#ffffff" opacity="0.33"/>
<rect x="378.7" y="306.3" width="28.7" height="0.8" fill="#ffffff" opacity="0.58"/>
<rect x="492.8" y="399.1" width="21.1" height="0.6" fill="#ffffff" opacity="0.59"/>
<rect x="582.5" y="404.1" width="54.8" height="1.0" fill="#ffffff" opacity="0.47"/>
<rect x="442.7" y="530.5" width="40.6" height="0.6" fill="#f3c6cc" opacity="0.11"/>
<rect x="380.2" y="493.7" width="15.6" height="0.9" fill="#ffffff" opacity="0.35"/>
<rect x="464.6" y="483.2" width="55.1" height="0.7" fill="#ffffff" opacity="0.50"/>
<rect x="396.2" y="403.9" width="36.4" height="0.5" fill="#f3c6cc" opacity="0.15"/>
<rect x="448.6" y="306.6" width="50.4" height="0.7" fill="#ffffff" opacity="0.29"/>
<rect x="601.4" y="441.8" width="31.8" height="0.8" fill="#ffffff" opacity="0.49"/>
<rect x="590.5" y="300.0" width="14.2" height="0.5" fill="#ffffff" opacity="0.42"/>
<rect x="487.7" y="307.1" width="36.0" height="0.9" fill="#ffffff" opacity="0.58"/>
<rect x="551.0" y="418.5" width="26.2" height="0.7" fill="#f3c6cc" opacity="0.07"/>
<rect x="640.5" y="347.0" width="38.6" height="0.9" fill="#ffffff" opacity="0.39"/>
<rect x="616.5" y="356.8" width="51.3" height="0.7" fill="#ffffff" opacity="0.38"/>
<rect x="463.4" y="409.5" width="45.9" height="0.9" fill="#ffffff" opacity="0.36"/>
<rect x="514.3" y="410.0" width="62.3" height="0.9" fill="#ffffff" opacity="0.38"/>
<rect x="614.7" y="550.3" width="31.7" height="0.6" fill="#ffffff" opacity="0.51"/>
<rect x="667.5" y="482.4" width="48.0" height="0.8" fill="#ffffff" opacity="0.40"/>
<rect x="609.8" y="348.3" width="40.5" height="0.9" fill="#f3c6cc" opacity="0.09"/>
<ellipse cx="386.9" cy="399.5" rx="2.6" ry="1.5" fill="#eeb3bc" opacity="0.27" filter="url(#bl2)"/>
<ellipse cx="448.6" cy="394.7" rx="3.0" ry="1.4" fill="#eeb3bc" opacity="0.33" filter="url(#bl2)"/>
<ellipse cx="399.9" cy="444.4" rx="2.7" ry="2.0" fill="#eeb3bc" opacity="0.23" filter="url(#bl2)"/>
<ellipse cx="560.1" cy="479.2" rx="2.6" ry="1.9" fill="#eeb3bc" opacity="0.27" filter="url(#bl2)"/>
<ellipse cx="457.8" cy="477.3" rx="2.3" ry="1.7" fill="#eeb3bc" opacity="0.35" filter="url(#bl2)"/>
<ellipse cx="423.1" cy="497.7" rx="2.0" ry="1.9" fill="#eeb3bc" opacity="0.34" filter="url(#bl2)"/>
<ellipse cx="464.7" cy="440.2" rx="2.3" ry="1.7" fill="#eeb3bc" opacity="0.18" filter="url(#bl2)"/>
<ellipse cx="570.7" cy="528.0" rx="2.5" ry="1.5" fill="#eeb3bc" opacity="0.31" filter="url(#bl2)"/>
<ellipse cx="508.7" cy="326.6" rx="2.4" ry="1.7" fill="#eeb3bc" opacity="0.26" filter="url(#bl2)"/>
<ellipse cx="681.0" cy="440.8" rx="2.9" ry="1.6" fill="#eeb3bc" opacity="0.30" filter="url(#bl2)"/>
<ellipse cx="404.6" cy="368.4" rx="2.5" ry="1.9" fill="#eeb3bc" opacity="0.32" filter="url(#bl2)"/>
<ellipse cx="496.6" cy="361.2" rx="2.0" ry="1.7" fill="#eeb3bc" opacity="0.15" filter="url(#bl2)"/>
<ellipse cx="494.9" cy="464.4" rx="1.7" ry="1.5" fill="#eeb3bc" opacity="0.32" filter="url(#bl2)"/>
<ellipse cx="663.6" cy="354.7" rx="1.8" ry="1.3" fill="#eeb3bc" opacity="0.17" filter="url(#bl2)"/>
<ellipse cx="621.5" cy="486.4" rx="1.9" ry="1.7" fill="#eeb3bc" opacity="0.29" filter="url(#bl2)"/>
<ellipse cx="390.4" cy="507.9" rx="2.8" ry="1.4" fill="#eeb3bc" opacity="0.29" filter="url(#bl2)"/>
<ellipse cx="592.9" cy="378.2" rx="2.8" ry="1.4" fill="#eeb3bc" opacity="0.24" filter="url(#bl2)"/>
<ellipse cx="476.6" cy="406.4" rx="2.7" ry="1.8" fill="#eeb3bc" opacity="0.27" filter="url(#bl2)"/>
<ellipse cx="679.8" cy="347.6" rx="1.8" ry="1.8" fill="#eeb3bc" opacity="0.18" filter="url(#bl2)"/>
<ellipse cx="672.9" cy="379.4" rx="2.2" ry="1.6" fill="#eeb3bc" opacity="0.32" filter="url(#bl2)"/>
<ellipse cx="658.2" cy="469.8" rx="1.8" ry="1.6" fill="#eeb3bc" opacity="0.29" filter="url(#bl2)"/>
<ellipse cx="447.1" cy="525.1" rx="2.8" ry="1.4" fill="#eeb3bc" opacity="0.22" filter="url(#bl2)"/>
<ellipse cx="450.9" cy="480.9" rx="1.6" ry="1.9" fill="#eeb3bc" opacity="0.16" filter="url(#bl2)"/>
<ellipse cx="635.7" cy="433.7" rx="2.4" ry="1.3" fill="#eeb3bc" opacity="0.16" filter="url(#bl2)"/>
<ellipse cx="488.5" cy="552.6" rx="2.4" ry="2.1" fill="#eeb3bc" opacity="0.16" filter="url(#bl2)"/>
<ellipse cx="412.6" cy="293.1" rx="2.5" ry="1.4" fill="#eeb3bc" opacity="0.20" filter="url(#bl2)"/>
<ellipse cx="583.2" cy="474.7" rx="2.0" ry="1.7" fill="#eeb3bc" opacity="0.21" filter="url(#bl2)"/>
<ellipse cx="551.3" cy="383.3" rx="2.0" ry="1.4" fill="#eeb3bc" opacity="0.21" filter="url(#bl2)"/>
<ellipse cx="460.7" cy="291.9" rx="2.0" ry="1.8" fill="#eeb3bc" opacity="0.20" filter="url(#bl2)"/>
<ellipse cx="416.0" cy="515.2" rx="2.2" ry="1.7" fill="#eeb3bc" opacity="0.21" filter="url(#bl2)"/>
<ellipse cx="649.6" cy="490.5" rx="2.4" ry="1.9" fill="#eeb3bc" opacity="0.29" filter="url(#bl2)"/>
<ellipse cx="532.9" cy="398.7" rx="2.1" ry="1.7" fill="#eeb3bc" opacity="0.24" filter="url(#bl2)"/>
<ellipse cx="541.5" cy="431.0" rx="2.7" ry="2.1" fill="#eeb3bc" opacity="0.19" filter="url(#bl2)"/>
<ellipse cx="388.6" cy="368.5" rx="1.5" ry="2.0" fill="#eeb3bc" opacity="0.27" filter="url(#bl2)"/>
<ellipse cx="468.1" cy="339.0" rx="2.8" ry="2.0" fill="#eeb3bc" opacity="0.29" filter="url(#bl2)"/>
<ellipse cx="590.7" cy="487.9" rx="2.2" ry="1.6" fill="#eeb3bc" opacity="0.26" filter="url(#bl2)"/>
<ellipse cx="647.6" cy="554.4" rx="2.9" ry="2.0" fill="#eeb3bc" opacity="0.16" filter="url(#bl2)"/>
<ellipse cx="456.4" cy="548.9" rx="2.3" ry="1.7" fill="#eeb3bc" opacity="0.21" filter="url(#bl2)"/>
<ellipse cx="642.0" cy="426.6" rx="3.0" ry="1.3" fill="#eeb3bc" opacity="0.35" filter="url(#bl2)"/>
<ellipse cx="385.9" cy="327.4" rx="2.1" ry="1.8" fill="#eeb3bc" opacity="0.17" filter="url(#bl2)"/>
<ellipse cx="551.6" cy="540.4" rx="2.2" ry="2.0" fill="#eeb3bc" opacity="0.27" filter="url(#bl2)"/>
<ellipse cx="557.7" cy="334.1" rx="2.2" ry="2.1" fill="#eeb3bc" opacity="0.28" filter="url(#bl2)"/>
<ellipse cx="447.3" cy="407.8" rx="2.3" ry="1.5" fill="#eeb3bc" opacity="0.27" filter="url(#bl2)"/>
<ellipse cx="572.5" cy="292.3" rx="1.8" ry="1.9" fill="#eeb3bc" opacity="0.19" filter="url(#bl2)"/>
<ellipse cx="403.9" cy="492.6" rx="2.0" ry="2.2" fill="#eeb3bc" opacity="0.26" filter="url(#bl2)"/>
<ellipse cx="438.4" cy="299.3" rx="3.25" ry="2.10" fill="#d86a78" opacity="0.9" filter="url(#bl2)"/>
<ellipse cx="458.1" cy="296.3" rx="3.00" ry="1.99" fill="#dc8590" opacity="0.9" filter="url(#bl2)"/>
<ellipse cx="490.2" cy="333.2" rx="2.38" ry="1.68" fill="#e08a96" opacity="0.8" filter="url(#bl2)"/>
<ellipse cx="501" cy="324.6" rx="2.50" ry="1.68" fill="#efbac2" opacity="0.6" filter="url(#bl2)"/>
<ellipse cx="523.7" cy="299.7" rx="2.50" ry="1.68" fill="#eeb6be" opacity="0.6" filter="url(#bl2)"/>
<ellipse cx="531.2" cy="367.6" rx="2.50" ry="1.68" fill="#eaa8b2" opacity="0.7" filter="url(#bl2)"/>
<ellipse cx="531.2" cy="397" rx="2.50" ry="1.68" fill="#eeb6be" opacity="0.6" filter="url(#bl2)"/>
<ellipse cx="403.8" cy="419.6" rx="2.75" ry="1.89" fill="#e8a0aa" opacity="0.8" filter="url(#bl2)"/>
<ellipse cx="389" cy="424.2" rx="2.50" ry="1.68" fill="#eaa8b2" opacity="0.7" filter="url(#bl2)"/>
<ellipse cx="391.3" cy="425.7" rx="2.75" ry="1.89" fill="#e8a0aa" opacity="0.7" filter="url(#bl2)"/>
<ellipse cx="394.7" cy="442.6" rx="3.25" ry="2.10" fill="#e28896" opacity="0.9" filter="url(#bl2)"/>
<ellipse cx="408.3" cy="439.2" rx="2.50" ry="1.68" fill="#eaa8b2" opacity="0.7" filter="url(#bl2)"/>
<ellipse cx="432.5" cy="461.2" rx="3.25" ry="2.10" fill="#e07b89" opacity="0.9" filter="url(#bl2)"/>
<ellipse cx="486.4" cy="457.3" rx="2.75" ry="1.89" fill="#e8a0aa" opacity="0.8" filter="url(#bl2)"/>
<ellipse cx="468.3" cy="468.7" rx="2.50" ry="1.68" fill="#eaa8b2" opacity="0.7" filter="url(#bl2)"/>
<ellipse cx="511.3" cy="455" rx="2.50" ry="1.68" fill="#f0bfc6" opacity="0.6" filter="url(#bl2)"/>
<ellipse cx="495.9" cy="493.5" rx="3.00" ry="1.99" fill="#e28896" opacity="0.9" filter="url(#bl2)"/>
<ellipse cx="481.4" cy="516.9" rx="2.75" ry="1.89" fill="#e4909c" opacity="0.85" filter="url(#bl2)"/>
<ellipse cx="393.6" cy="516.9" rx="2.50" ry="1.68" fill="#eaa8b2" opacity="0.7" filter="url(#bl2)"/>
<ellipse cx="463.7" cy="434.7" rx="2.25" ry="1.58" fill="#f0bfc6" opacity="0.5" filter="url(#bl2)"/>
<ellipse cx="541.3" cy="299.7" rx="2.50" ry="1.68" fill="#eeb6be" opacity="0.6" filter="url(#bl2)"/>
<ellipse cx="586.1" cy="292.9" rx="2.50" ry="1.68" fill="#f0bfc6" opacity="0.5" filter="url(#bl2)"/>
<ellipse cx="650" cy="313.3" rx="2.50" ry="1.68" fill="#f0bfc6" opacity="0.5" filter="url(#bl2)"/>
<ellipse cx="668" cy="338.6" rx="2.50" ry="1.68" fill="#eaa8b2" opacity="0.7" filter="url(#bl2)"/>
<ellipse cx="626.2" cy="394.8" rx="2.50" ry="1.68" fill="#eaa8b2" opacity="0.7" filter="url(#bl2)"/>
<ellipse cx="614.9" cy="397" rx="2.25" ry="1.58" fill="#eeb6be" opacity="0.6" filter="url(#bl2)"/>
<ellipse cx="660.1" cy="421.9" rx="2.50" ry="1.68" fill="#eaa8b2" opacity="0.7" filter="url(#bl2)"/>
<ellipse cx="532.3" cy="366.5" rx="2.50" ry="1.68" fill="#eaa8b2" opacity="0.6" filter="url(#bl2)"/>
<ellipse cx="532.3" cy="396.6" rx="2.50" ry="1.68" fill="#eeb6be" opacity="0.6" filter="url(#bl2)"/>
<ellipse cx="669.2" cy="480" rx="2.50" ry="1.68" fill="#eaa8b2" opacity="0.7" filter="url(#bl2)"/>
<ellipse cx="659" cy="497" rx="2.50" ry="1.68" fill="#e8a0aa" opacity="0.75" filter="url(#bl2)"/>
<ellipse cx="608" cy="428" rx="2.25" ry="1.58" fill="#f0bfc6" opacity="0.5" filter="url(#bl2)"/>
<ellipse cx="660" cy="422" rx="2.50" ry="1.68" fill="#eaa8b2" opacity="0.6" filter="url(#bl2)"/>
<ellipse cx="388" cy="337.5" rx="2.25" ry="1.58" fill="#f0bfc6" opacity="0.5" filter="url(#bl2)"/>
<radialGradient id="sg1193" cx="0.42" cy="0.45" r="0.6"><stop offset="0" stop-color="#e0000e"/><stop offset="0.55" stop-color="#e0000e"/><stop offset="1" stop-color="#f8202e"/></radialGradient>
<ellipse cx="622.5" cy="303.1" rx="7.5" ry="6.8" fill="#ffffff" opacity="0.45" filter="url(#bl2)"/>
<ellipse cx="624.0" cy="301.6" rx="5.8" ry="5.1" fill="#f8202e" opacity="0.35" filter="url(#bl2)"/>
<ellipse cx="624.0" cy="301.6" rx="5.0" ry="4.3" fill="url(#sg1193)" filter="url(#bl3)"/>
<radialGradient id="sg1197" cx="0.42" cy="0.45" r="0.6"><stop offset="0" stop-color="#f0000c"/><stop offset="0.55" stop-color="#f0000c"/><stop offset="1" stop-color="#ff1424"/></radialGradient>
<ellipse cx="612.6" cy="332.8" rx="7.8" ry="6.6" fill="#ffffff" opacity="0.45" filter="url(#bl2)"/>
<ellipse cx="614.1" cy="331.3" rx="6.1" ry="4.8999999999999995" fill="#ff1424" opacity="0.35" filter="url(#bl2)"/>
<ellipse cx="614.1" cy="331.3" rx="5.3" ry="4.1" fill="url(#sg1197)" filter="url(#bl3)"/>
<radialGradient id="sg1201" cx="0.42" cy="0.45" r="0.6"><stop offset="0" stop-color="#d8000c"/><stop offset="0.55" stop-color="#d8000c"/><stop offset="1" stop-color="#f81426"/></radialGradient>
<ellipse cx="647.3" cy="474.1" rx="8.3" ry="7.6" fill="#ffffff" opacity="0.45" filter="url(#bl2)"/>
<ellipse cx="648.8" cy="472.6" rx="6.6" ry="5.8999999999999995" fill="#f81426" opacity="0.35" filter="url(#bl2)"/>
<ellipse cx="648.8" cy="472.6" rx="5.8" ry="5.1" fill="url(#sg1201)" filter="url(#bl3)"/>
<radialGradient id="sg1205" cx="0.42" cy="0.45" r="0.6"><stop offset="0" stop-color="#f0000c"/><stop offset="0.55" stop-color="#f0000c"/><stop offset="1" stop-color="#ff2a3a"/></radialGradient>
<ellipse cx="414.2" cy="540.5" rx="8.1" ry="7.8" fill="#ffffff" opacity="0.45" filter="url(#bl2)"/>
<ellipse cx="415.7" cy="539.0" rx="6.3999999999999995" ry="6.1" fill="#ff2a3a" opacity="0.35" filter="url(#bl2)"/>
<ellipse cx="415.7" cy="539.0" rx="5.6" ry="5.3" fill="url(#sg1205)" filter="url(#bl3)"/>
<radialGradient id="sg1209" cx="0.42" cy="0.45" r="0.6"><stop offset="0" stop-color="#e03040"/><stop offset="0.55" stop-color="#e03040"/><stop offset="1" stop-color="#f06070"/></radialGradient>
<ellipse cx="505.9" cy="399.0" rx="6.1" ry="5.4" fill="#ffffff" opacity="0.45" filter="url(#bl2)"/>
<ellipse cx="507.4" cy="397.5" rx="4.4" ry="3.7" fill="#f06070" opacity="0.35" filter="url(#bl2)"/>
<ellipse cx="507.4" cy="397.5" rx="3.6" ry="2.9" fill="url(#sg1209)" filter="url(#bl3)"/>
</g>
<ellipse cx="599.4" cy="394.2" rx="4.6" ry="1.4" fill="#d8101c" filter="url(#bl1)"/>
<ellipse cx="599.5" cy="400.2" rx="5.4" ry="1.4" fill="#f00010" filter="url(#bl1)"/>
<line x1="588.8" y1="397.3" x2="609.8" y2="397.3" stroke="#ffffff" stroke-width="3.2" opacity="0.8" filter="url(#bl1)"/>
<line x1="589.40" y1="397.30" x2="609.10" y2="397.30" stroke="#22223a" stroke-width="1.1" />
<rect x="381.90" y="287.50" width="301.80" height="269.20" fill="none" stroke="#3c3c3c" stroke-width="1.6" />
<line x1="647.50" y1="537.20" x2="684.30" y2="537.20" stroke="#404040" stroke-width="1.8" />
<line x1="647.50" y1="532.00" x2="647.50" y2="542.30" stroke="#404040" stroke-width="1.6" />
<line x1="683.60" y1="532.00" x2="683.60" y2="542.30" stroke="#404040" stroke-width="2.2" />
<text x="649.20" y="555.20" font-size="11.2" text-anchor="start" fill="#3a2e38" font-weight="normal" stroke="#3a2e38" stroke-width="0.22" textLength="32.2" lengthAdjust="spacingAndGlyphs" >100nm</text>
<text x="146.90" y="573.90" font-size="12.3" text-anchor="start" fill="#000" font-weight="normal" stroke="#000" stroke-width="0.22" textLength="36.2" lengthAdjust="spacingAndGlyphs" >rAAV2</text>
<text x="495.00" y="575.80" font-size="12.8" text-anchor="start" fill="#000" font-weight="normal" stroke="#000" stroke-width="0.22" textLength="67.9" lengthAdjust="spacingAndGlyphs" >VP3wt VLPs</text>
<rect x="17.90" y="595.20" width="320.00" height="228.20" fill="none" stroke="#000" stroke-width="1.8" />
<line x1="56.40" y1="603.99" x2="56.40" y2="814.63" stroke="#d9d9d9" stroke-width="1" />
<line x1="181.60" y1="603.99" x2="181.60" y2="814.63" stroke="#d9d9d9" stroke-width="1" />
<line x1="244.20" y1="603.99" x2="244.20" y2="814.63" stroke="#d9d9d9" stroke-width="1" />
<line x1="306.80" y1="603.99" x2="306.80" y2="814.63" stroke="#d9d9d9" stroke-width="1" />
<line x1="56.40" y1="814.63" x2="306.80" y2="814.63" stroke="#d9d9d9" stroke-width="1" />
<line x1="56.40" y1="761.97" x2="306.80" y2="761.97" stroke="#d9d9d9" stroke-width="1" />
<line x1="56.40" y1="735.64" x2="306.80" y2="735.64" stroke="#d9d9d9" stroke-width="1" />
<line x1="56.40" y1="709.31" x2="306.80" y2="709.31" stroke="#d9d9d9" stroke-width="1" />
<line x1="56.40" y1="682.98" x2="306.80" y2="682.98" stroke="#d9d9d9" stroke-width="1" />
<line x1="56.40" y1="656.65" x2="306.80" y2="656.65" stroke="#d9d9d9" stroke-width="1" />
<line x1="56.40" y1="630.32" x2="306.80" y2="630.32" stroke="#d9d9d9" stroke-width="1" />
<line x1="56.40" y1="603.99" x2="306.80" y2="603.99" stroke="#d9d9d9" stroke-width="1" />
<line x1="119.00" y1="603.39" x2="119.00" y2="815.23" stroke="#000" stroke-width="1.8" />
<line x1="114.40" y1="814.63" x2="123.60" y2="814.63" stroke="#000" stroke-width="1.4" />
<line x1="119.00" y1="809.36" x2="122.30" y2="809.36" stroke="#000" stroke-width="1.2" />
<line x1="119.00" y1="804.10" x2="122.30" y2="804.10" stroke="#000" stroke-width="1.2" />
<line x1="119.00" y1="798.83" x2="122.30" y2="798.83" stroke="#000" stroke-width="1.2" />
<line x1="119.00" y1="793.57" x2="122.30" y2="793.57" stroke="#000" stroke-width="1.2" />
<line x1="114.40" y1="788.30" x2="123.60" y2="788.30" stroke="#000" stroke-width="1.4" />
<line x1="119.00" y1="783.03" x2="122.30" y2="783.03" stroke="#000" stroke-width="1.2" />
<line x1="119.00" y1="777.77" x2="122.30" y2="777.77" stroke="#000" stroke-width="1.2" />
<line x1="119.00" y1="772.50" x2="122.30" y2="772.50" stroke="#000" stroke-width="1.2" />
<line x1="119.00" y1="767.24" x2="122.30" y2="767.24" stroke="#000" stroke-width="1.2" />
<line x1="114.40" y1="761.97" x2="123.60" y2="761.97" stroke="#000" stroke-width="1.4" />
<line x1="119.00" y1="756.70" x2="122.30" y2="756.70" stroke="#000" stroke-width="1.2" />
<line x1="119.00" y1="751.44" x2="122.30" y2="751.44" stroke="#000" stroke-width="1.2" />
<line x1="119.00" y1="746.17" x2="122.30" y2="746.17" stroke="#000" stroke-width="1.2" />
<line x1="119.00" y1="740.91" x2="122.30" y2="740.91" stroke="#000" stroke-width="1.2" />
<line x1="114.40" y1="735.64" x2="123.60" y2="735.64" stroke="#000" stroke-width="1.4" />
<line x1="119.00" y1="730.37" x2="122.30" y2="730.37" stroke="#000" stroke-width="1.2" />
<line x1="119.00" y1="725.11" x2="122.30" y2="725.11" stroke="#000" stroke-width="1.2" />
<line x1="119.00" y1="719.84" x2="122.30" y2="719.84" stroke="#000" stroke-width="1.2" />
<line x1="119.00" y1="714.58" x2="122.30" y2="714.58" stroke="#000" stroke-width="1.2" />
<line x1="114.40" y1="709.31" x2="123.60" y2="709.31" stroke="#000" stroke-width="1.4" />
<line x1="119.00" y1="704.04" x2="122.30" y2="704.04" stroke="#000" stroke-width="1.2" />
<line x1="119.00" y1="698.78" x2="122.30" y2="698.78" stroke="#000" stroke-width="1.2" />
<line x1="119.00" y1="693.51" x2="122.30" y2="693.51" stroke="#000" stroke-width="1.2" />
<line x1="119.00" y1="688.25" x2="122.30" y2="688.25" stroke="#000" stroke-width="1.2" />
<line x1="114.40" y1="682.98" x2="123.60" y2="682.98" stroke="#000" stroke-width="1.4" />
<line x1="119.00" y1="677.71" x2="122.30" y2="677.71" stroke="#000" stroke-width="1.2" />
<line x1="119.00" y1="672.45" x2="122.30" y2="672.45" stroke="#000" stroke-width="1.2" />
<line x1="119.00" y1="667.18" x2="122.30" y2="667.18" stroke="#000" stroke-width="1.2" />
<line x1="119.00" y1="661.92" x2="122.30" y2="661.92" stroke="#000" stroke-width="1.2" />
<line x1="114.40" y1="656.65" x2="123.60" y2="656.65" stroke="#000" stroke-width="1.4" />
<line x1="119.00" y1="651.38" x2="122.30" y2="651.38" stroke="#000" stroke-width="1.2" />
<line x1="119.00" y1="646.12" x2="122.30" y2="646.12" stroke="#000" stroke-width="1.2" />
<line x1="119.00" y1="640.85" x2="122.30" y2="640.85" stroke="#000" stroke-width="1.2" />
<line x1="119.00" y1="635.59" x2="122.30" y2="635.59" stroke="#000" stroke-width="1.2" />
<line x1="114.40" y1="630.32" x2="123.60" y2="630.32" stroke="#000" stroke-width="1.4" />
<line x1="119.00" y1="625.05" x2="122.30" y2="625.05" stroke="#000" stroke-width="1.2" />
<line x1="119.00" y1="619.79" x2="122.30" y2="619.79" stroke="#000" stroke-width="1.2" />
<line x1="119.00" y1="614.52" x2="122.30" y2="614.52" stroke="#000" stroke-width="1.2" />
<line x1="119.00" y1="609.26" x2="122.30" y2="609.26" stroke="#000" stroke-width="1.2" />
<line x1="114.40" y1="603.99" x2="123.60" y2="603.99" stroke="#000" stroke-width="1.4" />
<line x1="55.80" y1="788.30" x2="307.40" y2="788.30" stroke="#000" stroke-width="1.8" />
<line x1="56.40" y1="784.30" x2="56.40" y2="792.30" stroke="#000" stroke-width="1.5" />
<line x1="68.92" y1="785.00" x2="68.92" y2="788.30" stroke="#000" stroke-width="1.2" />
<line x1="81.44" y1="785.00" x2="81.44" y2="788.30" stroke="#000" stroke-width="1.2" />
<line x1="93.96" y1="785.00" x2="93.96" y2="788.30" stroke="#000" stroke-width="1.2" />
<line x1="106.48" y1="785.00" x2="106.48" y2="788.30" stroke="#000" stroke-width="1.2" />
<line x1="119.00" y1="784.30" x2="119.00" y2="792.30" stroke="#000" stroke-width="1.5" />
<line x1="131.52" y1="785.00" x2="131.52" y2="788.30" stroke="#000" stroke-width="1.2" />
<line x1="144.04" y1="785.00" x2="144.04" y2="788.30" stroke="#000" stroke-width="1.2" />
<line x1="156.56" y1="785.00" x2="156.56" y2="788.30" stroke="#000" stroke-width="1.2" />
<line x1="169.08" y1="785.00" x2="169.08" y2="788.30" stroke="#000" stroke-width="1.2" />
<line x1="181.60" y1="784.30" x2="181.60" y2="792.30" stroke="#000" stroke-width="1.5" />
<line x1="194.12" y1="785.00" x2="194.12" y2="788.30" stroke="#000" stroke-width="1.2" />
<line x1="206.64" y1="785.00" x2="206.64" y2="788.30" stroke="#000" stroke-width="1.2" />
<line x1="219.16" y1="785.00" x2="219.16" y2="788.30" stroke="#000" stroke-width="1.2" />
<line x1="231.68" y1="785.00" x2="231.68" y2="788.30" stroke="#000" stroke-width="1.2" />
<line x1="244.20" y1="784.30" x2="244.20" y2="792.30" stroke="#000" stroke-width="1.5" />
<line x1="256.72" y1="785.00" x2="256.72" y2="788.30" stroke="#000" stroke-width="1.2" />
<line x1="269.24" y1="785.00" x2="269.24" y2="788.30" stroke="#000" stroke-width="1.2" />
<line x1="281.76" y1="785.00" x2="281.76" y2="788.30" stroke="#000" stroke-width="1.2" />
<line x1="294.28" y1="785.00" x2="294.28" y2="788.30" stroke="#000" stroke-width="1.2" />
<line x1="306.80" y1="784.30" x2="306.80" y2="792.30" stroke="#000" stroke-width="1.5" />
<text x="105.00" y="818.98" font-size="12.2" text-anchor="end" fill="#000" font-weight="normal" stroke="#000" stroke-width="0.22" >-1</text>
<text x="105.00" y="792.65" font-size="12.2" text-anchor="end" fill="#000" font-weight="normal" stroke="#000" stroke-width="0.22" >0</text>
<text x="105.00" y="766.32" font-size="12.2" text-anchor="end" fill="#000" font-weight="normal" stroke="#000" stroke-width="0.22" >1</text>
<text x="105.00" y="739.99" font-size="12.2" text-anchor="end" fill="#000" font-weight="normal" stroke="#000" stroke-width="0.22" >2</text>
<text x="105.00" y="713.66" font-size="12.2" text-anchor="end" fill="#000" font-weight="normal" stroke="#000" stroke-width="0.22" >3</text>
<text x="105.00" y="687.33" font-size="12.2" text-anchor="end" fill="#000" font-weight="normal" stroke="#000" stroke-width="0.22" >4</text>
<text x="105.00" y="661.00" font-size="12.2" text-anchor="end" fill="#000" font-weight="normal" stroke="#000" stroke-width="0.22" >5</text>
<text x="105.00" y="634.67" font-size="12.2" text-anchor="end" fill="#000" font-weight="normal" stroke="#000" stroke-width="0.22" >6</text>
<text x="105.00" y="608.34" font-size="12.2" text-anchor="end" fill="#000" font-weight="normal" stroke="#000" stroke-width="0.22" >7</text>
<text x="56.70" y="812.20" font-size="12.7" text-anchor="middle" fill="#000" font-weight="normal" stroke="#000" stroke-width="0.22" >-20</text>
<text x="119.30" y="812.20" font-size="12.7" text-anchor="middle" fill="#000" font-weight="normal" stroke="#000" stroke-width="0.22" >0</text>
<text x="181.90" y="812.20" font-size="12.7" text-anchor="middle" fill="#000" font-weight="normal" stroke="#000" stroke-width="0.22" >20</text>
<text x="244.50" y="812.20" font-size="12.7" text-anchor="middle" fill="#000" font-weight="normal" stroke="#000" stroke-width="0.22" >40</text>
<text x="307.10" y="812.20" font-size="12.7" text-anchor="middle" fill="#000" font-weight="normal" stroke="#000" stroke-width="0.22" >60</text>
<text x="207.50" y="809.20" font-size="14" text-anchor="middle" fill="#000" font-weight="normal" stroke="#000" stroke-width="0.22" textLength="19.5" lengthAdjust="spacingAndGlyphs" >nm</text>
<text x="0.00" y="0.00" font-size="14" text-anchor="middle" fill="#000" font-weight="normal" stroke="#000" stroke-width="0.22" textLength="19.2" lengthAdjust="spacingAndGlyphs" transform="translate(45.0,707.6) rotate(-90)">nm</text>
<polyline points="119.00,792.78 131.21,790.14 143.41,769.61 155.62,713.26 167.51,659.81 179.72,630.58 191.93,618.73 204.14,621.10 216.03,640.33 228.24,692.20 240.44,753.54 252.34,789.88 265.48,792.25" fill="none" stroke="#8c8c8c" stroke-width="2.1" stroke-linejoin="round" stroke-linecap="round"/>
<polyline points="105.85,788.30 115.56,785.67 125.26,780.40 134.96,772.50 143.73,751.44 153.43,721.16 162.82,688.77 171.58,670.60 180.97,660.07 190.68,656.65 200.07,657.70 209.14,660.86 218.22,667.97 226.99,681.66 236.38,707.73 245.76,738.27 255.47,769.34 264.23,784.88 274.25,787.77" fill="none" stroke="#000" stroke-width="2.1" stroke-linejoin="round" stroke-linecap="round"/>
<line x1="217.20" y1="613.70" x2="249.90" y2="613.70" stroke="#8c8c8c" stroke-width="2.1" />
<line x1="217.20" y1="640.40" x2="249.90" y2="640.40" stroke="#000" stroke-width="2.1" />
<text x="252.70" y="618.40" font-size="12.4" text-anchor="start" fill="#000" font-weight="normal" stroke="#000" stroke-width="0.22" textLength="36.6" lengthAdjust="spacingAndGlyphs" >rAAV2</text>
<text x="252.70" y="645.20" font-size="12.4" text-anchor="start" fill="#000" font-weight="normal" stroke="#000" stroke-width="0.22" textLength="68.3" lengthAdjust="spacingAndGlyphs" >VP3wt VLPs</text>
<rect x="362.60" y="595.60" width="319.90" height="228.20" fill="none" stroke="#444" stroke-width="1.3" />
<line x1="446.30" y1="730.30" x2="672.30" y2="730.30" stroke="#cfcfcf" stroke-width="1.1" />
<line x1="446.30" y1="702.70" x2="672.30" y2="702.70" stroke="#cfcfcf" stroke-width="1.1" />
<line x1="446.30" y1="675.10" x2="672.30" y2="675.10" stroke="#cfcfcf" stroke-width="1.1" />
<line x1="446.30" y1="647.50" x2="672.30" y2="647.50" stroke="#cfcfcf" stroke-width="1.1" />
<line x1="446.30" y1="757.90" x2="672.30" y2="757.90" stroke="#cfcfcf" stroke-width="1.1" />
<line x1="446.30" y1="646.90" x2="446.30" y2="758.50" stroke="#000" stroke-width="1.6" />
<line x1="441.90" y1="757.90" x2="450.60" y2="757.90" stroke="#000" stroke-width="1.4" />
<line x1="446.30" y1="752.38" x2="449.60" y2="752.38" stroke="#000" stroke-width="1.1" />
<line x1="446.30" y1="746.86" x2="449.60" y2="746.86" stroke="#000" stroke-width="1.1" />
<line x1="446.30" y1="741.34" x2="449.60" y2="741.34" stroke="#000" stroke-width="1.1" />
<line x1="446.30" y1="735.82" x2="449.60" y2="735.82" stroke="#000" stroke-width="1.1" />
<line x1="441.90" y1="730.30" x2="450.60" y2="730.30" stroke="#000" stroke-width="1.4" />
<line x1="446.30" y1="724.78" x2="449.60" y2="724.78" stroke="#000" stroke-width="1.1" />
<line x1="446.30" y1="719.26" x2="449.60" y2="719.26" stroke="#000" stroke-width="1.1" />
<line x1="446.30" y1="713.74" x2="449.60" y2="713.74" stroke="#000" stroke-width="1.1" />
<line x1="446.30" y1="708.22" x2="449.60" y2="708.22" stroke="#000" stroke-width="1.1" />
<line x1="441.90" y1="702.70" x2="450.60" y2="702.70" stroke="#000" stroke-width="1.4" />
<line x1="446.30" y1="697.18" x2="449.60" y2="697.18" stroke="#000" stroke-width="1.1" />
<line x1="446.30" y1="691.66" x2="449.60" y2="691.66" stroke="#000" stroke-width="1.1" />
<line x1="446.30" y1="686.14" x2="449.60" y2="686.14" stroke="#000" stroke-width="1.1" />
<line x1="446.30" y1="680.62" x2="449.60" y2="680.62" stroke="#000" stroke-width="1.1" />
<line x1="441.90" y1="675.10" x2="450.60" y2="675.10" stroke="#000" stroke-width="1.4" />
<line x1="446.30" y1="669.58" x2="449.60" y2="669.58" stroke="#000" stroke-width="1.1" />
<line x1="446.30" y1="664.06" x2="449.60" y2="664.06" stroke="#000" stroke-width="1.1" />
<line x1="446.30" y1="658.54" x2="449.60" y2="658.54" stroke="#000" stroke-width="1.1" />
<line x1="446.30" y1="653.02" x2="449.60" y2="653.02" stroke="#000" stroke-width="1.1" />
<line x1="441.90" y1="647.50" x2="450.60" y2="647.50" stroke="#000" stroke-width="1.4" />
<text x="436.00" y="760.60" font-size="14.5" text-anchor="end" fill="#000" font-weight="normal" stroke="#000" stroke-width="0.22" >0</text>
<text x="436.00" y="734.50" font-size="14.5" text-anchor="end" fill="#000" font-weight="normal" stroke="#000" stroke-width="0.22" >10</text>
<text x="436.00" y="706.70" font-size="14.5" text-anchor="end" fill="#000" font-weight="normal" stroke="#000" stroke-width="0.22" >20</text>
<text x="436.00" y="680.70" font-size="14.5" text-anchor="end" fill="#000" font-weight="normal" stroke="#000" stroke-width="0.22" >30</text>
<text x="436.00" y="653.70" font-size="14.5" text-anchor="end" fill="#000" font-weight="normal" stroke="#000" stroke-width="0.22" >40</text>
<text x="0.00" y="0.00" font-size="13.2" text-anchor="middle" fill="#000" font-weight="normal" stroke="#000" stroke-width="0.22" textLength="99.1" lengthAdjust="spacingAndGlyphs" transform="translate(389.9,699.5) rotate(-90)">Particle diameter</text>
<text x="0.00" y="0.00" font-size="13.2" text-anchor="middle" fill="#000" font-weight="normal" stroke="#000" stroke-width="0.22" transform="translate(406.2,700.0) rotate(-90)">(nm)</text>
<line x1="522.05" y1="687.70" x2="522.05" y2="690.00" stroke="#9a9a9a" stroke-width="1.4" />
<line x1="522.05" y1="705.20" x2="522.05" y2="709.40" stroke="#9a9a9a" stroke-width="1.4" />
<line x1="512.95" y1="687.70" x2="531.15" y2="687.70" stroke="#9a9a9a" stroke-width="1.4" />
<line x1="512.95" y1="709.40" x2="531.15" y2="709.40" stroke="#9a9a9a" stroke-width="1.4" />
<rect x="490.60" y="690.00" width="62.90" height="15.20" fill="#fff" stroke="#9a9a9a" stroke-width="1.4" />
<line x1="490.60" y1="696.30" x2="553.50" y2="696.30" stroke="#9a9a9a" stroke-width="1.4" />
<line x1="517.00" y1="692.60" x2="526.20" y2="701.80" stroke="#9a9a9a" stroke-width="1.4" />
<line x1="517.00" y1="701.80" x2="526.20" y2="692.60" stroke="#9a9a9a" stroke-width="1.4" />
<line x1="592.15" y1="676.00" x2="592.15" y2="682.10" stroke="#111" stroke-width="1.6" />
<line x1="592.15" y1="697.20" x2="592.15" y2="702.40" stroke="#111" stroke-width="1.6" />
<line x1="583.05" y1="676.00" x2="601.25" y2="676.00" stroke="#111" stroke-width="1.6" />
<line x1="583.05" y1="702.40" x2="601.25" y2="702.40" stroke="#111" stroke-width="1.6" />
<rect x="560.70" y="682.10" width="62.90" height="15.10" fill="#fff" stroke="#111" stroke-width="1.6" />
<line x1="560.70" y1="689.10" x2="623.60" y2="689.10" stroke="#111" stroke-width="1.6" />
<line x1="587.50" y1="684.90" x2="596.70" y2="694.10" stroke="#111" stroke-width="1.6" />
<line x1="587.50" y1="694.10" x2="596.70" y2="684.90" stroke="#111" stroke-width="1.6" />
<rect x="449.20" y="790.00" width="11.20" height="11.20" fill="#fff" stroke="#a0a0a0" stroke-width="1.5" />
<rect x="515.30" y="790.00" width="11.20" height="11.20" fill="#fff" stroke="#222" stroke-width="1.6" />
<text x="462.50" y="798.70" font-size="13.4" text-anchor="start" fill="#000" font-weight="normal" stroke="#000" stroke-width="0.22" textLength="36.9" lengthAdjust="spacingAndGlyphs" >rAAV2</text>
<text x="530.30" y="798.70" font-size="13.4" text-anchor="start" fill="#000" font-weight="normal" stroke="#000" stroke-width="0.22" textLength="68.9" lengthAdjust="spacingAndGlyphs" >VP3wt VLPs</text>
</svg></body></html>
